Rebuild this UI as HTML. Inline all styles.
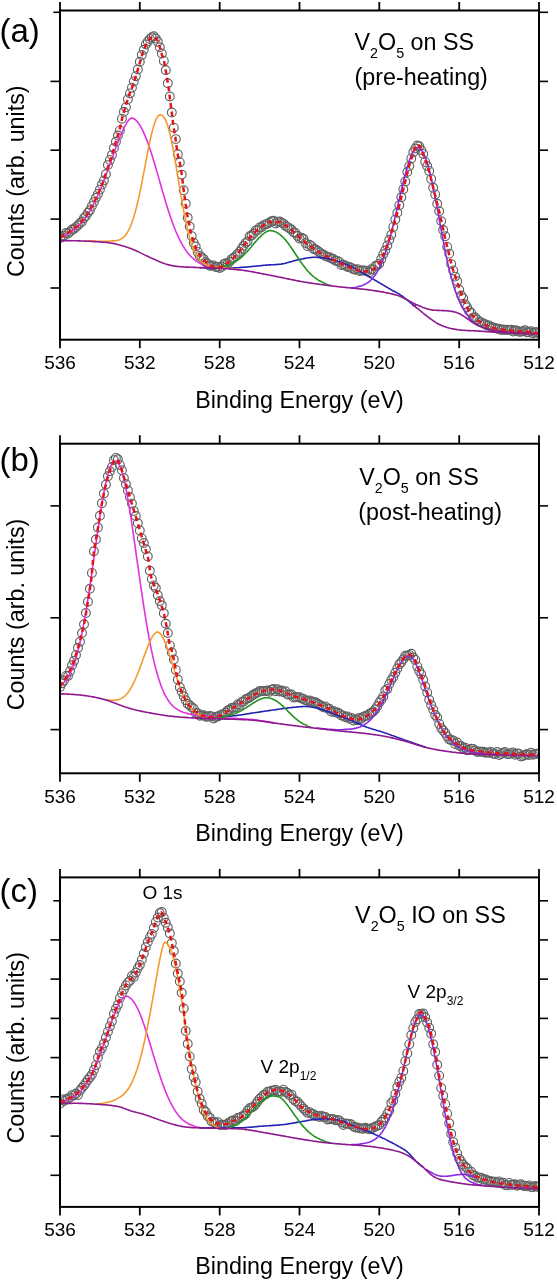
<!DOCTYPE html>
<html><head><meta charset="utf-8"><style>
html,body{margin:0;padding:0;background:#fff;width:557px;height:1280px;overflow:hidden}
svg{display:block;will-change:transform}
text{font-family:"Liberation Sans",sans-serif;fill:#000}
.tl{font-size:19px}
.ax{font-size:23.3px}
.pl{font-size:33px}
.an{font-size:23.3px}
.pk{font-size:19px}
.sub{font-size:14.3px}
.sub2{font-size:12px}
</style></head><body>
<svg width="557" height="1280" viewBox="0 0 557 1280">
<defs><clipPath id="clipa"><rect x="60.0" y="10.5" width="479.0" height="329.2"/></clipPath><clipPath id="clipb"><rect x="60.0" y="443.7" width="479.0" height="329.59999999999997"/></clipPath><clipPath id="clipc"><rect x="60.0" y="877.4" width="479.0" height="329.5000000000001"/></clipPath></defs>
<g clip-path="url(#clipa)">
<g fill="none" stroke="#626262" stroke-width="1.15"><circle cx="60.0" cy="238.1" r="4.4"/><circle cx="62.0" cy="237.3" r="4.4"/><circle cx="64.0" cy="235.6" r="4.4"/><circle cx="66.0" cy="233.0" r="4.4"/><circle cx="68.0" cy="233.5" r="4.4"/><circle cx="70.0" cy="231.7" r="4.4"/><circle cx="72.0" cy="229.5" r="4.4"/><circle cx="74.0" cy="228.9" r="4.4"/><circle cx="76.0" cy="227.1" r="4.4"/><circle cx="78.0" cy="225.3" r="4.4"/><circle cx="80.0" cy="223.2" r="4.4"/><circle cx="82.0" cy="221.5" r="4.4"/><circle cx="84.0" cy="218.1" r="4.4"/><circle cx="85.9" cy="216.0" r="4.4"/><circle cx="87.9" cy="212.7" r="4.4"/><circle cx="89.9" cy="210.2" r="4.4"/><circle cx="91.9" cy="206.1" r="4.4"/><circle cx="93.9" cy="202.1" r="4.4"/><circle cx="95.9" cy="197.7" r="4.4"/><circle cx="97.9" cy="193.9" r="4.4"/><circle cx="99.9" cy="189.6" r="4.4"/><circle cx="101.9" cy="184.6" r="4.4"/><circle cx="103.9" cy="180.5" r="4.4"/><circle cx="105.9" cy="174.2" r="4.4"/><circle cx="107.9" cy="165.1" r="4.4"/><circle cx="109.9" cy="159.9" r="4.4"/><circle cx="111.9" cy="155.1" r="4.4"/><circle cx="113.9" cy="148.1" r="4.4"/><circle cx="115.9" cy="141.7" r="4.4"/><circle cx="117.9" cy="135.5" r="4.4"/><circle cx="119.9" cy="130.4" r="4.4"/><circle cx="121.9" cy="118.7" r="4.4"/><circle cx="123.9" cy="111.8" r="4.4"/><circle cx="125.9" cy="107.3" r="4.4"/><circle cx="127.9" cy="99.2" r="4.4"/><circle cx="129.9" cy="93.4" r="4.4"/><circle cx="131.9" cy="87.7" r="4.4"/><circle cx="133.8" cy="81.4" r="4.4"/><circle cx="135.8" cy="76.2" r="4.4"/><circle cx="137.8" cy="69.5" r="4.4"/><circle cx="139.8" cy="61.7" r="4.4"/><circle cx="141.8" cy="55.1" r="4.4"/><circle cx="143.8" cy="49.8" r="4.4"/><circle cx="145.8" cy="44.4" r="4.4"/><circle cx="147.8" cy="41.5" r="4.4"/><circle cx="149.8" cy="38.9" r="4.4"/><circle cx="151.8" cy="37.2" r="4.4"/><circle cx="153.8" cy="36.3" r="4.4"/><circle cx="155.8" cy="38.6" r="4.4"/><circle cx="157.8" cy="41.8" r="4.4"/><circle cx="159.8" cy="47.3" r="4.4"/><circle cx="161.8" cy="53.5" r="4.4"/><circle cx="163.8" cy="60.9" r="4.4"/><circle cx="165.8" cy="70.3" r="4.4"/><circle cx="167.8" cy="83.3" r="4.4"/><circle cx="169.8" cy="96.5" r="4.4"/><circle cx="171.8" cy="112.5" r="4.4"/><circle cx="173.8" cy="127.7" r="4.4"/><circle cx="175.8" cy="139.1" r="4.4"/><circle cx="177.8" cy="154.2" r="4.4"/><circle cx="179.8" cy="162.4" r="4.4"/><circle cx="181.7" cy="174.6" r="4.4"/><circle cx="183.7" cy="190.3" r="4.4"/><circle cx="185.7" cy="203.6" r="4.4"/><circle cx="187.7" cy="217.8" r="4.4"/><circle cx="189.7" cy="226.6" r="4.4"/><circle cx="191.7" cy="236.1" r="4.4"/><circle cx="193.7" cy="242.7" r="4.4"/><circle cx="195.7" cy="246.5" r="4.4"/><circle cx="197.7" cy="251.9" r="4.4"/><circle cx="199.7" cy="255.9" r="4.4"/><circle cx="201.7" cy="257.3" r="4.4"/><circle cx="203.7" cy="259.1" r="4.4"/><circle cx="205.7" cy="262.3" r="4.4"/><circle cx="207.7" cy="263.7" r="4.4"/><circle cx="209.7" cy="265.7" r="4.4"/><circle cx="211.7" cy="265.7" r="4.4"/><circle cx="213.7" cy="265.4" r="4.4"/><circle cx="215.7" cy="267.0" r="4.4"/><circle cx="217.7" cy="267.0" r="4.4"/><circle cx="219.7" cy="267.9" r="4.4"/><circle cx="221.7" cy="266.8" r="4.4"/><circle cx="223.7" cy="264.2" r="4.4"/><circle cx="225.7" cy="263.2" r="4.4"/><circle cx="227.7" cy="263.4" r="4.4"/><circle cx="229.6" cy="261.8" r="4.4"/><circle cx="231.6" cy="259.1" r="4.4"/><circle cx="233.6" cy="257.8" r="4.4"/><circle cx="235.6" cy="256.1" r="4.4"/><circle cx="237.6" cy="254.0" r="4.4"/><circle cx="239.6" cy="251.8" r="4.4"/><circle cx="241.6" cy="248.7" r="4.4"/><circle cx="243.6" cy="245.8" r="4.4"/><circle cx="245.6" cy="243.1" r="4.4"/><circle cx="247.6" cy="241.5" r="4.4"/><circle cx="249.6" cy="236.3" r="4.4"/><circle cx="251.6" cy="235.5" r="4.4"/><circle cx="253.6" cy="233.5" r="4.4"/><circle cx="255.6" cy="230.4" r="4.4"/><circle cx="257.6" cy="229.9" r="4.4"/><circle cx="259.6" cy="227.4" r="4.4"/><circle cx="261.6" cy="227.2" r="4.4"/><circle cx="263.6" cy="225.1" r="4.4"/><circle cx="265.6" cy="224.4" r="4.4"/><circle cx="267.6" cy="223.7" r="4.4"/><circle cx="269.6" cy="222.4" r="4.4"/><circle cx="271.6" cy="221.3" r="4.4"/><circle cx="273.6" cy="220.8" r="4.4"/><circle cx="275.6" cy="223.4" r="4.4"/><circle cx="277.5" cy="221.9" r="4.4"/><circle cx="279.5" cy="221.5" r="4.4"/><circle cx="281.5" cy="222.7" r="4.4"/><circle cx="283.5" cy="223.6" r="4.4"/><circle cx="285.5" cy="226.0" r="4.4"/><circle cx="287.5" cy="226.9" r="4.4"/><circle cx="289.5" cy="228.4" r="4.4"/><circle cx="291.5" cy="229.5" r="4.4"/><circle cx="293.5" cy="232.2" r="4.4"/><circle cx="295.5" cy="232.9" r="4.4"/><circle cx="297.5" cy="236.0" r="4.4"/><circle cx="299.5" cy="238.5" r="4.4"/><circle cx="301.5" cy="237.8" r="4.4"/><circle cx="303.5" cy="238.8" r="4.4"/><circle cx="305.5" cy="243.0" r="4.4"/><circle cx="307.5" cy="246.1" r="4.4"/><circle cx="309.5" cy="244.8" r="4.4"/><circle cx="311.5" cy="246.1" r="4.4"/><circle cx="313.5" cy="249.0" r="4.4"/><circle cx="315.5" cy="249.2" r="4.4"/><circle cx="317.5" cy="250.8" r="4.4"/><circle cx="319.5" cy="252.2" r="4.4"/><circle cx="321.5" cy="254.1" r="4.4"/><circle cx="323.4" cy="254.5" r="4.4"/><circle cx="325.4" cy="256.1" r="4.4"/><circle cx="327.4" cy="256.7" r="4.4"/><circle cx="329.4" cy="257.1" r="4.4"/><circle cx="331.4" cy="258.5" r="4.4"/><circle cx="333.4" cy="259.0" r="4.4"/><circle cx="335.4" cy="260.8" r="4.4"/><circle cx="337.4" cy="260.9" r="4.4"/><circle cx="339.4" cy="261.9" r="4.4"/><circle cx="341.4" cy="264.9" r="4.4"/><circle cx="343.4" cy="264.6" r="4.4"/><circle cx="345.4" cy="265.6" r="4.4"/><circle cx="347.4" cy="266.9" r="4.4"/><circle cx="349.4" cy="267.0" r="4.4"/><circle cx="351.4" cy="267.9" r="4.4"/><circle cx="353.4" cy="269.2" r="4.4"/><circle cx="355.4" cy="269.7" r="4.4"/><circle cx="357.4" cy="269.1" r="4.4"/><circle cx="359.4" cy="271.1" r="4.4"/><circle cx="361.4" cy="270.4" r="4.4"/><circle cx="363.4" cy="270.4" r="4.4"/><circle cx="365.4" cy="270.7" r="4.4"/><circle cx="367.4" cy="271.0" r="4.4"/><circle cx="369.4" cy="272.2" r="4.4"/><circle cx="371.4" cy="269.3" r="4.4"/><circle cx="373.3" cy="269.4" r="4.4"/><circle cx="375.3" cy="266.0" r="4.4"/><circle cx="377.3" cy="265.5" r="4.4"/><circle cx="379.3" cy="263.6" r="4.4"/><circle cx="381.3" cy="259.0" r="4.4"/><circle cx="383.3" cy="254.3" r="4.4"/><circle cx="385.3" cy="250.3" r="4.4"/><circle cx="387.3" cy="245.5" r="4.4"/><circle cx="389.3" cy="239.8" r="4.4"/><circle cx="391.3" cy="234.7" r="4.4"/><circle cx="393.3" cy="226.9" r="4.4"/><circle cx="395.3" cy="219.6" r="4.4"/><circle cx="397.3" cy="212.8" r="4.4"/><circle cx="399.3" cy="205.2" r="4.4"/><circle cx="401.3" cy="197.3" r="4.4"/><circle cx="403.3" cy="189.2" r="4.4"/><circle cx="405.3" cy="181.5" r="4.4"/><circle cx="407.3" cy="172.0" r="4.4"/><circle cx="409.3" cy="166.0" r="4.4"/><circle cx="411.3" cy="158.4" r="4.4"/><circle cx="413.3" cy="152.3" r="4.4"/><circle cx="415.3" cy="148.5" r="4.4"/><circle cx="417.3" cy="145.5" r="4.4"/><circle cx="419.2" cy="146.3" r="4.4"/><circle cx="421.2" cy="150.0" r="4.4"/><circle cx="423.2" cy="153.9" r="4.4"/><circle cx="425.2" cy="161.9" r="4.4"/><circle cx="427.2" cy="166.0" r="4.4"/><circle cx="429.2" cy="170.9" r="4.4"/><circle cx="431.2" cy="179.1" r="4.4"/><circle cx="433.2" cy="187.8" r="4.4"/><circle cx="435.2" cy="194.4" r="4.4"/><circle cx="437.2" cy="203.8" r="4.4"/><circle cx="439.2" cy="211.2" r="4.4"/><circle cx="441.2" cy="221.1" r="4.4"/><circle cx="443.2" cy="230.0" r="4.4"/><circle cx="445.2" cy="236.2" r="4.4"/><circle cx="447.2" cy="246.9" r="4.4"/><circle cx="449.2" cy="253.6" r="4.4"/><circle cx="451.2" cy="264.1" r="4.4"/><circle cx="453.2" cy="270.4" r="4.4"/><circle cx="455.2" cy="276.6" r="4.4"/><circle cx="457.2" cy="281.2" r="4.4"/><circle cx="459.2" cy="289.7" r="4.4"/><circle cx="461.2" cy="295.5" r="4.4"/><circle cx="463.2" cy="298.3" r="4.4"/><circle cx="465.2" cy="304.2" r="4.4"/><circle cx="467.1" cy="307.2" r="4.4"/><circle cx="469.1" cy="310.9" r="4.4"/><circle cx="471.1" cy="312.8" r="4.4"/><circle cx="473.1" cy="317.6" r="4.4"/><circle cx="475.1" cy="317.3" r="4.4"/><circle cx="477.1" cy="319.5" r="4.4"/><circle cx="479.1" cy="321.7" r="4.4"/><circle cx="481.1" cy="322.1" r="4.4"/><circle cx="483.1" cy="323.6" r="4.4"/><circle cx="485.1" cy="324.3" r="4.4"/><circle cx="487.1" cy="325.5" r="4.4"/><circle cx="489.1" cy="325.4" r="4.4"/><circle cx="491.1" cy="326.7" r="4.4"/><circle cx="493.1" cy="327.5" r="4.4"/><circle cx="495.1" cy="328.0" r="4.4"/><circle cx="497.1" cy="328.7" r="4.4"/><circle cx="499.1" cy="328.8" r="4.4"/><circle cx="501.1" cy="330.0" r="4.4"/><circle cx="503.1" cy="329.5" r="4.4"/><circle cx="505.1" cy="329.9" r="4.4"/><circle cx="507.1" cy="329.8" r="4.4"/><circle cx="509.1" cy="330.1" r="4.4"/><circle cx="511.1" cy="329.7" r="4.4"/><circle cx="513.1" cy="331.4" r="4.4"/><circle cx="515.0" cy="330.2" r="4.4"/><circle cx="517.0" cy="330.7" r="4.4"/><circle cx="519.0" cy="331.7" r="4.4"/><circle cx="521.0" cy="331.8" r="4.4"/><circle cx="523.0" cy="331.3" r="4.4"/><circle cx="525.0" cy="330.2" r="4.4"/><circle cx="527.0" cy="332.3" r="4.4"/><circle cx="529.0" cy="332.3" r="4.4"/><circle cx="531.0" cy="331.2" r="4.4"/><circle cx="533.0" cy="333.2" r="4.4"/><circle cx="535.0" cy="332.2" r="4.4"/><circle cx="537.0" cy="332.1" r="4.4"/><circle cx="539.0" cy="333.4" r="4.4"/></g>
<path d="M200.0 267.7L201.0 267.7L202.0 267.7L203.0 267.8L204.0 267.8L205.0 267.9L206.0 267.9L207.0 268.0L208.0 268.0L209.0 268.1L210.0 268.1L211.0 268.1L212.0 268.2L213.0 268.2L214.0 268.2L215.0 268.2L216.0 268.2L217.0 268.3L218.0 268.3L219.0 268.3L220.0 268.3L221.0 268.3L222.0 268.3L223.0 268.3L224.0 268.3L225.0 268.3L226.0 268.2L227.0 268.2L228.0 268.2L229.0 268.2L230.0 268.1L231.0 268.1L232.0 268.0L233.0 268.0L234.0 267.9L235.0 267.9L236.0 267.8L237.0 267.7L238.0 267.7L239.0 267.6L240.0 267.5L241.0 267.4L242.0 267.4L243.0 267.3L244.0 267.2L245.0 267.2L246.0 267.1L247.0 267.0L248.0 266.9L249.0 266.8L250.0 266.7L251.0 266.6L252.0 266.5L253.0 266.4L254.0 266.3L255.0 266.2L256.0 266.1L257.0 266.0L258.0 265.9L259.0 265.8L260.0 265.7L261.0 265.6L262.0 265.5L263.0 265.4L264.0 265.3L265.0 265.2L266.0 265.1L267.0 265.1L268.0 265.0L269.0 264.9L270.0 264.9L271.0 264.8L272.0 264.8L273.0 264.7L274.0 264.7L275.0 264.6L276.0 264.6L277.0 264.5L278.0 264.4L279.0 264.3L280.0 264.2L281.0 264.1L282.0 263.9L283.0 263.8L284.0 263.6L285.0 263.3L286.0 263.1L287.0 262.8L288.0 262.5L289.0 262.2L290.0 261.9L291.0 261.7L292.0 261.4L293.0 261.1L294.0 260.8L295.0 260.6L296.0 260.3L297.0 260.1L298.0 259.8L299.0 259.6L300.0 259.4L301.0 259.2L302.0 259.0L303.0 258.8L304.0 258.6L305.0 258.4L306.0 258.2L307.0 258.0L308.0 257.8L309.0 257.7L310.0 257.6L311.0 257.5L312.0 257.4L313.0 257.3L314.0 257.3L315.0 257.3L316.0 257.3L317.0 257.3L318.0 257.4L319.0 257.5L320.0 257.5L321.0 257.7L322.0 257.8L323.0 257.9L324.0 258.0L325.0 258.2L326.0 258.3L327.0 258.5L328.0 258.7L329.0 258.9L330.0 259.1L331.0 259.3L332.0 259.6L333.0 259.8L334.0 260.1L335.0 260.4L336.0 260.8L337.0 261.1L338.0 261.4L339.0 261.8L340.0 262.1L341.0 262.5L342.0 262.8L343.0 263.2L344.0 263.6L345.0 264.0L346.0 264.4L347.0 264.8L348.0 265.2L349.0 265.7L350.0 266.1L351.0 266.6L352.0 267.1L353.0 267.6L354.0 268.1L355.0 268.6L356.0 269.1L357.0 269.7L358.0 270.2L359.0 270.8L360.0 271.4L361.0 272.0L362.0 272.6L363.0 273.2L364.0 273.8L365.0 274.4L366.0 275.0L367.0 275.6L368.0 276.1L369.0 276.7L370.0 277.3L371.0 277.9L372.0 278.5L373.0 279.0L374.0 279.6L375.0 280.2L376.0 280.8L377.0 281.4L378.0 282.0L379.0 282.5L380.0 283.1L381.0 283.7L382.0 284.3L383.0 284.9L384.0 285.5L385.0 286.1L386.0 286.7L387.0 287.3L388.0 287.9L389.0 288.5L390.0 289.0L391.0 289.6L392.0 290.2L393.0 290.7L394.0 291.2L395.0 291.8L396.0 292.3L397.0 292.9L398.0 293.4L399.0 294.0L400.0 294.6L401.0 295.3L402.0 296.0L403.0 296.7L404.0 297.5L405.0 298.3L406.0 299.1L407.0 299.9L408.0 300.7L409.0 301.5L410.0 302.4L411.0 303.1L412.0 303.9L413.0 304.6L414.0 305.3L415.0 305.8L416.0 306.3" fill="none" stroke="#2424b4" stroke-width="1.6"/>
<path d="M412.0 304.8L413.0 305.3L414.0 305.9L415.0 306.6L416.0 307.3L417.0 308.1L418.0 308.9L419.0 309.7L420.0 310.5L421.0 311.3L422.0 312.1L423.0 313.0L424.0 313.8L425.0 314.6L426.0 315.4L427.0 316.2L428.0 317.0L429.0 317.7L430.0 318.5L431.0 319.2L432.0 319.9L433.0 320.6L434.0 321.3L435.0 321.9L436.0 322.6L437.0 323.2L438.0 323.7L439.0 324.3L440.0 324.8L441.0 325.3L442.0 325.7L443.0 326.1L444.0 326.5L445.0 326.8L446.0 327.1L447.0 327.5L448.0 327.7L449.0 328.0L450.0 328.3L451.0 328.5L452.0 328.7L453.0 328.9L454.0 329.1L455.0 329.3L456.0 329.4L457.0 329.6L458.0 329.7L459.0 329.8L460.0 330.0L461.0 330.1L462.0 330.2L463.0 330.3L464.0 330.3L465.0 330.4L466.0 330.5L467.0 330.5L468.0 330.6L469.0 330.6L470.0 330.6L471.0 330.7L472.0 330.7L473.0 330.8L474.0 330.8L475.0 330.9L476.0 330.9L477.0 331.0L478.0 331.0L479.0 331.1L480.0 331.1L481.0 331.2L482.0 331.3L483.0 331.4L484.0 331.4L485.0 331.5L486.0 331.6L487.0 331.6L488.0 331.7L489.0 331.8L490.0 331.9L491.0 331.9L492.0 332.0L493.0 332.1L494.0 332.1L495.0 332.2L496.0 332.3L497.0 332.3L498.0 332.4L499.0 332.4L500.0 332.5L501.0 332.5L502.0 332.6L503.0 332.6L504.0 332.7L505.0 332.7L506.0 332.8L507.0 332.8L508.0 332.9L509.0 332.9L510.0 333.0L511.0 333.0L512.0 333.1L513.0 333.1L514.0 333.2L515.0 333.2L516.0 333.2L517.0 333.3L518.0 333.3L519.0 333.4L520.0 333.4L521.0 333.4L522.0 333.5L523.0 333.5L524.0 333.6L525.0 333.6L526.0 333.6L527.0 333.7L528.0 333.7L529.0 333.7L530.0 333.8L531.0 333.8L532.0 333.8L533.0 333.8L534.0 333.9L535.0 333.9L536.0 333.9L537.0 333.9L538.0 334.0L539.0 334.0" fill="none" stroke="#8f1a8f" stroke-width="1.6"/>
<path d="M60.0 236.7L61.0 236.4L62.0 236.1L63.0 235.7L64.0 235.3L65.0 234.9L66.0 234.5L67.0 234.0L68.0 233.5L69.0 233.0L70.0 232.4L71.0 231.8L72.0 231.2L73.0 230.5L74.0 229.8L75.0 229.0L76.0 228.2L77.0 227.3L78.0 226.4L79.0 225.4L80.0 224.4L81.0 223.3L82.0 222.2L83.0 221.0L84.0 219.7L85.0 218.4L86.0 217.0L87.0 215.6L88.0 214.0L89.0 212.4L90.0 210.8L91.0 209.1L92.0 207.3L93.0 205.4L94.0 203.5L95.0 201.5L96.0 199.4L97.0 197.2L98.0 195.0L99.0 192.7L100.0 190.3L101.0 187.9L102.0 185.4L103.0 182.9L104.0 180.3L105.0 177.7L106.0 175.0L107.0 172.3L108.0 169.5L109.0 166.7L110.0 163.9L111.0 161.1L112.0 158.3L113.0 155.5L114.0 152.7L115.0 150.0L116.0 147.2L117.0 144.5L118.0 141.9L119.0 139.3L120.0 136.8L121.0 134.4L122.0 132.1L123.0 129.9L124.0 127.8L125.0 125.8L126.0 124.1L127.0 122.4L128.0 121.0L129.0 119.9L130.0 118.9L131.0 118.3L132.0 118.0L133.0 118.3L134.0 118.8L135.0 119.5L136.0 120.3L137.0 121.4L138.0 122.6L139.0 124.0L140.0 125.5L141.0 127.2L142.0 129.1L143.0 131.1L144.0 133.3L145.0 135.6L146.0 138.1L147.0 140.6L148.0 143.3L149.0 146.2L150.0 149.1L151.0 152.1L152.0 155.2L153.0 158.4L154.0 161.7L155.0 165.1L156.0 168.5L157.0 171.9L158.0 175.4L159.0 178.9L160.0 182.4L161.0 186.0L162.0 189.4L163.0 192.9L164.0 196.3L165.0 199.7L166.0 203.0L167.0 206.3L168.0 209.4L169.0 212.5L170.0 215.5L171.0 218.5L172.0 221.3L173.0 224.0L174.0 226.7L175.0 229.2L176.0 231.7L177.0 234.0L178.0 236.2L179.0 238.4L180.0 240.4L181.0 242.3L182.0 244.2L183.0 245.9L184.0 247.5L185.0 249.1L186.0 250.5L187.0 251.9L188.0 253.2L189.0 254.4L190.0 255.5L191.0 256.6L192.0 257.5L193.0 258.4L194.0 259.3L195.0 260.1L196.0 260.8L197.0 261.5L198.0 262.1L199.0 262.7L200.0 263.2L201.0 263.7L202.0 264.1L203.0 264.6L204.0 264.9L205.0 265.3L206.0 265.6L207.0 265.9L208.0 266.3L209.0 266.7L210.0 267.0L211.0 267.3L212.0 267.5L213.0 267.6L214.0 267.8L215.0 267.9" fill="none" stroke="#e030e0" stroke-width="1.6"/>
<path d="M85.0 240.8L86.0 240.8L87.0 240.9L88.0 240.9L89.0 240.9L90.0 241.0L91.0 241.0L92.0 241.0L93.0 241.1L94.0 241.1L95.0 241.1L96.0 241.1L97.0 241.2L98.0 241.2L99.0 241.2L100.0 241.2L101.0 241.3L102.0 241.3L103.0 241.3L104.0 241.3L105.0 241.3L106.0 241.3L107.0 241.3L108.0 241.2L109.0 241.1L110.0 241.0L111.0 241.0L112.0 240.9L113.0 240.9L114.0 240.9L115.0 240.8L116.0 240.6L117.0 240.5L118.0 240.2L119.0 239.9L120.0 239.5L121.0 239.0L122.0 238.4L123.0 237.6L124.0 236.7L125.0 235.7L126.0 234.4L127.0 233.0L128.0 231.3L129.0 229.4L130.0 227.3L131.0 224.9L132.0 222.3L133.0 219.4L134.0 216.2L135.0 212.8L136.0 209.1L137.0 205.2L138.0 201.0L139.0 196.5L140.0 191.9L141.0 187.0L142.0 182.0L143.0 176.8L144.0 171.6L145.0 166.3L146.0 161.0L147.0 155.8L148.0 150.6L149.0 145.7L150.0 140.9L151.0 136.4L152.0 132.2L153.0 128.4L154.0 125.0L155.0 122.0L156.0 119.6L157.0 117.6L158.0 116.2L159.0 115.3L160.0 114.9L161.0 114.9L162.0 115.4L163.0 116.2L164.0 117.4L165.0 119.0L166.0 121.1L167.0 123.7L168.0 126.8L169.0 130.4L170.0 134.4L171.0 138.8L172.0 143.6L173.0 148.7L174.0 154.1L175.0 159.8L176.0 165.6L177.0 171.6L178.0 177.6L179.0 183.6L180.0 189.7L181.0 195.6L182.0 201.4L183.0 207.0L184.0 212.4L185.0 217.6L186.0 222.5L187.0 227.1L188.0 231.4L189.0 235.4L190.0 239.1L191.0 242.5L192.0 245.5L193.0 248.3L194.0 250.7L195.0 252.9L196.0 254.9L197.0 256.6L198.0 258.1L199.0 259.4L200.0 260.5L201.0 261.5L202.0 262.3L203.0 263.0L204.0 263.6L205.0 264.1L206.0 264.6L207.0 264.9L208.0 265.2L209.0 265.5L210.0 265.7L211.0 265.9L212.0 266.2L213.0 266.4L214.0 266.7L215.0 266.8L216.0 267.0L217.0 267.1L218.0 267.3L219.0 267.4L220.0 267.5L221.0 267.6L222.0 267.7L223.0 267.8L224.0 267.9L225.0 268.0L226.0 268.1L227.0 268.2L228.0 268.3L229.0 268.4L230.0 268.5L231.0 268.6L232.0 268.8L233.0 268.9L234.0 269.0L235.0 269.1L236.0 269.2L237.0 269.3L238.0 269.4L239.0 269.6" fill="none" stroke="#f39a2c" stroke-width="1.6"/>
<path d="M214.0 267.9L215.0 267.8L216.0 267.8L217.0 267.7L218.0 267.6L219.0 267.4L220.0 267.2L221.0 266.9L222.0 266.6L223.0 266.3L224.0 266.1L225.0 265.9L226.0 265.6L227.0 265.4L228.0 265.1L229.0 264.7L230.0 264.3L231.0 263.9L232.0 263.5L233.0 263.0L234.0 262.5L235.0 261.9L236.0 261.3L237.0 260.6L238.0 259.9L239.0 259.2L240.0 258.4L241.0 257.6L242.0 256.7L243.0 255.8L244.0 254.8L245.0 253.8L246.0 252.8L247.0 251.7L248.0 250.6L249.0 249.5L250.0 248.3L251.0 247.2L252.0 246.0L253.0 244.8L254.0 243.6L255.0 242.4L256.0 241.3L257.0 240.1L258.0 239.0L259.0 237.9L260.0 236.9L261.0 235.9L262.0 235.0L263.0 234.1L264.0 233.3L265.0 232.6L266.0 232.0L267.0 231.5L268.0 231.1L269.0 230.8L270.0 230.6L271.0 230.6L272.0 230.8L273.0 231.0L274.0 231.3L275.0 231.7L276.0 232.1L277.0 232.6L278.0 233.2L279.0 233.8L280.0 234.6L281.0 235.4L282.0 236.3L283.0 237.2L284.0 238.3L285.0 239.4L286.0 240.6L287.0 241.8L288.0 243.1L289.0 244.5L290.0 245.9L291.0 247.3L292.0 248.8L293.0 250.3L294.0 251.8L295.0 253.3L296.0 254.8L297.0 256.3L298.0 257.8L299.0 259.3L300.0 260.8L301.0 262.2L302.0 263.6L303.0 265.0L304.0 266.3L305.0 267.6L306.0 268.9L307.0 270.1L308.0 271.2L309.0 272.3L310.0 273.4L311.0 274.3L312.0 275.3L313.0 276.2L314.0 277.0L315.0 277.8L316.0 278.5L317.0 279.2L318.0 279.9L319.0 280.5L320.0 281.0L321.0 281.5L322.0 282.0L323.0 282.5L324.0 282.9L325.0 283.5L326.0 284.0L327.0 284.4L328.0 284.8L329.0 285.1L330.0 285.3L331.0 285.5" fill="none" stroke="#229322" stroke-width="1.6"/>
<path d="M351.0 287.7L352.0 287.7L353.0 287.7L354.0 287.6L355.0 287.5L356.0 287.3L357.0 287.0L358.0 286.6L359.0 286.4L360.0 286.2L361.0 285.9L362.0 285.6L363.0 285.2L364.0 284.8L365.0 284.3L366.0 283.8L367.0 283.2L368.0 282.5L369.0 281.8L370.0 280.9L371.0 280.0L372.0 279.0L373.0 277.8L374.0 276.6L375.0 275.2L376.0 273.7L377.0 272.1L378.0 270.4L379.0 268.5L380.0 266.4L381.0 264.2L382.0 261.9L383.0 259.4L384.0 256.7L385.0 253.9L386.0 250.9L387.0 247.7L388.0 244.4L389.0 240.9L390.0 237.3L391.0 233.6L392.0 229.7L393.0 225.7L394.0 221.6L395.0 217.4L396.0 213.1L397.0 208.8L398.0 204.5L399.0 200.1L400.0 195.8L401.0 191.5L402.0 187.3L403.0 183.2L404.0 179.2L405.0 175.3L406.0 171.5L407.0 168.0L408.0 164.6L409.0 161.5L410.0 158.6L411.0 156.0L412.0 153.7L413.0 151.7L414.0 150.1L415.0 148.8L416.0 147.9L417.0 147.5L418.0 147.5L419.0 147.9L420.0 148.6L421.0 149.6L422.0 150.8L423.0 152.4L424.0 154.4L425.0 156.6L426.0 159.3L427.0 162.3L428.0 165.6L429.0 169.3L430.0 173.2L431.0 177.4L432.0 181.9L433.0 186.6L434.0 191.5L435.0 196.6L436.0 201.8L437.0 207.2L438.0 212.6L439.0 218.0L440.0 223.5L441.0 228.9L442.0 234.3L443.0 239.6L444.0 244.8L445.0 249.9L446.0 254.8L447.0 259.5L448.0 264.1L449.0 268.4L450.0 272.6L451.0 276.5L452.0 280.2L453.0 283.7L454.0 286.9L455.0 290.0L456.0 292.8L457.0 295.5L458.0 298.0L459.0 300.4L460.0 302.6L461.0 304.6L462.0 306.6L463.0 308.4L464.0 310.2L465.0 311.8L466.0 313.3L467.0 314.7L468.0 316.1L469.0 317.3L470.0 318.5L471.0 319.7L472.0 320.9L473.0 321.9L474.0 322.7L475.0 323.4L476.0 324.1" fill="none" stroke="#8a2be2" stroke-width="1.6"/>
<path d="M60.0 240.5L61.0 240.5L62.0 240.5L63.0 240.5L64.0 240.6L65.0 240.6L66.0 240.6L67.0 240.6L68.0 240.6L69.0 240.6L70.0 240.7L71.0 240.7L72.0 240.7L73.0 240.7L74.0 240.8L75.0 240.8L76.0 240.8L77.0 240.8L78.0 240.9L79.0 240.9L80.0 240.9L81.0 241.0L82.0 241.0L83.0 241.0L84.0 241.1L85.0 241.1L86.0 241.2L87.0 241.2L88.0 241.2L89.0 241.3L90.0 241.3L91.0 241.4L92.0 241.4L93.0 241.5L94.0 241.6L95.0 241.6L96.0 241.7L97.0 241.7L98.0 241.8L99.0 241.9L100.0 241.9L101.0 242.0L102.0 242.1L103.0 242.2L104.0 242.3L105.0 242.3L106.0 242.4L107.0 242.5L108.0 242.7L109.0 242.8L110.0 242.9L111.0 243.1L112.0 243.2L113.0 243.4L114.0 243.6L115.0 243.8L116.0 244.1L117.0 244.3L118.0 244.6L119.0 244.8L120.0 245.1L121.0 245.4L122.0 245.7L123.0 246.0L124.0 246.3L125.0 246.6L126.0 246.9L127.0 247.2L128.0 247.5L129.0 247.9L130.0 248.2L131.0 248.6L132.0 249.0L133.0 249.4L134.0 249.8L135.0 250.2L136.0 250.7L137.0 251.2L138.0 251.6L139.0 252.1L140.0 252.6L141.0 253.1L142.0 253.6L143.0 254.1L144.0 254.6L145.0 255.1L146.0 255.6L147.0 256.0L148.0 256.5L149.0 257.0L150.0 257.4L151.0 257.9L152.0 258.3L153.0 258.7L154.0 259.2L155.0 259.6L156.0 260.1L157.0 260.5L158.0 261.0L159.0 261.4L160.0 261.9L161.0 262.3L162.0 262.7L163.0 263.1L164.0 263.4L165.0 263.8L166.0 264.1L167.0 264.4L168.0 264.7L169.0 264.9L170.0 265.2L171.0 265.4L172.0 265.6L173.0 265.8L174.0 266.0L175.0 266.1L176.0 266.3L177.0 266.4L178.0 266.5L179.0 266.6L180.0 266.7L181.0 266.8L182.0 266.8L183.0 266.9L184.0 267.0L185.0 267.0L186.0 267.1L187.0 267.1L188.0 267.1L189.0 267.2L190.0 267.2L191.0 267.3L192.0 267.3L193.0 267.3L194.0 267.4L195.0 267.4L196.0 267.5L197.0 267.5L198.0 267.5L199.0 267.6L200.0 267.6L201.0 267.6L202.0 267.7L203.0 267.7L204.0 267.7L205.0 267.8L206.0 267.8L207.0 267.9L208.0 267.9L209.0 267.9L210.0 268.0L211.0 268.0L212.0 268.0L213.0 268.1L214.0 268.1L215.0 268.1L216.0 268.2L217.0 268.2L218.0 268.3L219.0 268.3L220.0 268.4L221.0 268.4L222.0 268.5L223.0 268.5L224.0 268.6L225.0 268.6L226.0 268.7L227.0 268.8L228.0 268.8L229.0 268.9L230.0 269.0L231.0 269.1L232.0 269.2L233.0 269.3L234.0 269.4L235.0 269.5L236.0 269.6L237.0 269.7L238.0 269.8L239.0 269.9L240.0 270.0L241.0 270.1L242.0 270.2L243.0 270.3L244.0 270.5L245.0 270.6L246.0 270.7L247.0 270.9L248.0 271.0L249.0 271.2L250.0 271.4L251.0 271.5L252.0 271.7L253.0 271.9L254.0 272.1L255.0 272.3L256.0 272.5L257.0 272.7L258.0 272.9L259.0 273.1L260.0 273.3L261.0 273.5L262.0 273.7L263.0 273.9L264.0 274.1L265.0 274.3L266.0 274.5L267.0 274.6L268.0 274.8L269.0 275.0L270.0 275.2L271.0 275.4L272.0 275.6L273.0 275.8L274.0 276.0L275.0 276.2L276.0 276.4L277.0 276.6L278.0 276.8L279.0 277.0L280.0 277.2L281.0 277.4L282.0 277.6L283.0 277.8L284.0 278.0L285.0 278.2L286.0 278.5L287.0 278.7L288.0 278.9L289.0 279.1L290.0 279.3L291.0 279.5L292.0 279.7L293.0 279.9L294.0 280.1L295.0 280.3L296.0 280.5L297.0 280.7L298.0 280.9L299.0 281.1L300.0 281.3L301.0 281.5L302.0 281.7L303.0 281.8L304.0 282.0L305.0 282.2L306.0 282.3L307.0 282.5L308.0 282.6L309.0 282.8L310.0 282.9L311.0 283.1L312.0 283.2L313.0 283.4L314.0 283.5L315.0 283.7L316.0 283.8L317.0 284.0L318.0 284.1L319.0 284.2L320.0 284.4L321.0 284.5L322.0 284.6L323.0 284.8L324.0 284.9L325.0 285.0L326.0 285.2L327.0 285.3L328.0 285.4L329.0 285.6L330.0 285.7L331.0 285.8L332.0 285.9L333.0 286.1L334.0 286.2L335.0 286.3L336.0 286.4L337.0 286.5L338.0 286.7L339.0 286.8L340.0 286.9L341.0 287.0L342.0 287.1L343.0 287.2L344.0 287.3L345.0 287.4L346.0 287.5L347.0 287.6L348.0 287.7L349.0 287.8L350.0 287.9L351.0 288.0L352.0 288.1L353.0 288.2L354.0 288.3L355.0 288.4L356.0 288.5L357.0 288.6L358.0 288.7L359.0 288.8L360.0 288.9L361.0 289.0L362.0 289.1L363.0 289.2L364.0 289.3L365.0 289.4L366.0 289.5L367.0 289.6L368.0 289.8L369.0 289.9L370.0 290.0L371.0 290.2L372.0 290.3L373.0 290.5L374.0 290.6L375.0 290.8L376.0 290.9L377.0 291.1L378.0 291.2L379.0 291.4L380.0 291.6L381.0 291.8L382.0 291.9L383.0 292.1L384.0 292.3L385.0 292.5L386.0 292.7L387.0 292.9L388.0 293.1L389.0 293.3L390.0 293.5L391.0 293.7L392.0 293.9L393.0 294.2L394.0 294.4L395.0 294.7L396.0 295.0L397.0 295.3L398.0 295.6L399.0 295.9L400.0 296.3L401.0 296.7L402.0 297.2L403.0 297.7L404.0 298.2L405.0 298.7L406.0 299.2L407.0 299.7L408.0 300.3L409.0 300.8L410.0 301.4L411.0 301.9L412.0 302.4L413.0 302.9L414.0 303.4L415.0 303.9L416.0 304.4L417.0 304.8L418.0 305.3L419.0 305.7L420.0 306.1L421.0 306.6L422.0 307.0L423.0 307.4L424.0 307.7L425.0 308.1L426.0 308.4L427.0 308.8L428.0 309.1L429.0 309.3L430.0 309.6L431.0 309.8L432.0 309.9L433.0 310.1L434.0 310.2L435.0 310.2L436.0 310.3L437.0 310.4L438.0 310.4L439.0 310.4L440.0 310.5L441.0 310.5L442.0 310.5L443.0 310.6L444.0 310.6L445.0 310.7L446.0 310.7L447.0 310.8L448.0 310.9L449.0 311.0L450.0 311.1L451.0 311.2L452.0 311.4L453.0 311.6L454.0 311.8L455.0 312.1L456.0 312.3L457.0 312.7L458.0 313.0L459.0 313.5L460.0 313.9L461.0 314.5L462.0 315.1L463.0 315.7L464.0 316.4L465.0 317.1L466.0 317.8L467.0 318.5L468.0 319.2L469.0 319.9L470.0 320.6L471.0 321.3L472.0 322.0L473.0 322.6L474.0 323.2L475.0 323.8L476.0 324.3L477.0 324.8L478.0 325.3L479.0 325.7L480.0 326.2L481.0 326.6L482.0 327.0L483.0 327.3L484.0 327.7L485.0 328.0L486.0 328.3L487.0 328.6L488.0 328.9L489.0 329.2L490.0 329.4L491.0 329.6L492.0 329.9L493.0 330.1L494.0 330.3L495.0 330.5L496.0 330.7L497.0 330.8L498.0 331.0L499.0 331.1L500.0 331.2L501.0 331.4L502.0 331.5L503.0 331.6L504.0 331.7L505.0 331.8L506.0 331.9L507.0 332.0L508.0 332.1L509.0 332.2L510.0 332.3L511.0 332.3L512.0 332.4L513.0 332.5L514.0 332.6L515.0 332.7L516.0 332.7L517.0 332.8L518.0 332.9L519.0 332.9L520.0 333.0L521.0 333.1L522.0 333.1L523.0 333.2L524.0 333.2L525.0 333.3L526.0 333.4L527.0 333.4L528.0 333.5L529.0 333.5L530.0 333.6L531.0 333.6L532.0 333.7L533.0 333.7L534.0 333.8L535.0 333.8L536.0 333.9L537.0 333.9L538.0 333.9L539.0 333.9" fill="none" stroke="#8f1a8f" stroke-width="1.6"/>
<path d="M60.0 237.8L61.0 237.2L62.0 236.6L63.0 236.0L64.0 235.4L65.0 234.7L66.0 234.1L67.0 233.4L68.0 232.7L69.0 232.0L70.0 231.3L71.0 230.6L72.0 229.9L73.0 229.2L74.0 228.4L75.0 227.6L76.0 226.8L77.0 226.0L78.0 225.1L79.0 224.1L80.0 223.2L81.0 222.1L82.0 221.0L83.0 219.9L84.0 218.7L85.0 217.4L86.0 216.1L87.0 214.6L88.0 213.0L89.0 211.4L90.0 209.6L91.0 207.8L92.0 206.0L93.0 204.1L94.0 202.2L95.0 200.2L96.0 198.2L97.0 196.1L98.0 193.9L99.0 191.7L100.0 189.4L101.0 187.0L102.0 184.6L103.0 182.0L104.0 179.2L105.0 176.2L106.0 173.1L107.0 170.0L108.0 167.0L109.0 164.1L110.0 161.1L111.0 158.1L112.0 154.9L113.0 151.6L114.0 148.1L115.0 144.6L116.0 141.2L117.0 138.0L118.0 135.0L119.0 131.8L120.0 128.2L121.0 123.7L122.0 119.0L123.0 115.1L124.0 111.7L125.0 108.5L126.0 105.2L127.0 101.7L128.0 98.2L129.0 95.1L130.0 92.5L131.0 90.1L132.0 87.7L133.0 85.2L134.0 82.2L135.0 78.9L136.0 75.6L137.0 72.2L138.0 68.9L139.0 65.5L140.0 62.1L141.0 58.5L142.0 55.0L143.0 52.0L144.0 49.4L145.0 47.0L146.0 44.8L147.0 42.9L148.0 41.3L149.0 39.9L150.0 38.7L151.0 37.8L152.0 37.0L153.0 36.6L154.0 36.8L155.0 37.5L156.0 38.4L157.0 39.7L158.0 41.5L159.0 44.2L160.0 47.9L161.0 51.6L162.0 54.8L163.0 57.7L164.0 61.1L165.0 65.7L166.0 72.1L167.0 78.3L168.0 83.8L169.0 90.4L170.0 99.5L171.0 106.5L172.0 113.8L173.0 122.7L174.0 129.2L175.0 135.0L176.0 141.9L177.0 149.8L178.0 155.7L179.0 159.5L180.0 163.5L181.0 169.2L182.0 176.2L183.0 184.7L184.0 192.9L185.0 199.3L186.0 206.5L187.0 213.7L188.0 218.7L189.0 223.0L190.0 228.5L191.0 233.3L192.0 236.8L193.0 239.9L194.0 243.0L195.0 245.9L196.0 248.5L197.0 250.4L198.0 252.2L199.0 253.8L200.0 255.3L201.0 256.6L202.0 257.9L203.0 259.0L204.0 260.0L205.0 261.0L206.0 261.9L207.0 262.9L208.0 263.7L209.0 264.5L210.0 265.1L211.0 265.7L212.0 266.1L213.0 266.4L214.0 266.7L215.0 266.9L216.0 267.1L217.0 267.3L218.0 267.4L219.0 267.4L220.0 267.3L221.0 266.9L222.0 266.5L223.0 265.9L224.0 265.3L225.0 264.6L226.0 263.9L227.0 263.2L228.0 262.5L229.0 261.8L230.0 261.0L231.0 260.2L232.0 259.3L233.0 258.4L234.0 257.4L235.0 256.4L236.0 255.4L237.0 254.3L238.0 253.2L239.0 251.9L240.0 250.6L241.0 249.3L242.0 248.0L243.0 246.7L244.0 245.4L245.0 244.1L246.0 242.8L247.0 241.5L248.0 240.2L249.0 238.9L250.0 237.6L251.0 236.4L252.0 235.2L253.0 234.1L254.0 233.1L255.0 232.1L256.0 231.1L257.0 230.2L258.0 229.3L259.0 228.4L260.0 227.6L261.0 226.9L262.0 226.2L263.0 225.6L264.0 224.9L265.0 224.2L266.0 223.6L267.0 223.0L268.0 222.6L269.0 222.2L270.0 222.0L271.0 222.0L272.0 222.0L273.0 222.0L274.0 222.0L275.0 222.0L276.0 222.0L277.0 222.0L278.0 222.0L279.0 222.0L280.0 222.1L281.0 222.4L282.0 222.8L283.0 223.4L284.0 224.1L285.0 224.9L286.0 225.7L287.0 226.5L288.0 227.3L289.0 228.0L290.0 228.8L291.0 229.6L292.0 230.5L293.0 231.4L294.0 232.3L295.0 233.2L296.0 234.1L297.0 235.0L298.0 235.9L299.0 236.8L300.0 237.7L301.0 238.6L302.0 239.5L303.0 240.4L304.0 241.2L305.0 242.1L306.0 242.9L307.0 243.7L308.0 244.5L309.0 245.2L310.0 246.0L311.0 246.7L312.0 247.4L313.0 248.2L314.0 248.9L315.0 249.5L316.0 250.2L317.0 250.9L318.0 251.5L319.0 252.2L320.0 252.8L321.0 253.4L322.0 254.0L323.0 254.5L324.0 255.1L325.0 255.6L326.0 256.1L327.0 256.6L328.0 257.1L329.0 257.6L330.0 258.1L331.0 258.6L332.0 259.1L333.0 259.6L334.0 260.1L335.0 260.6L336.0 261.1L337.0 261.6L338.0 262.1L339.0 262.6L340.0 263.1L341.0 263.5L342.0 264.0L343.0 264.5L344.0 265.0L345.0 265.4L346.0 265.9L347.0 266.3L348.0 266.7L349.0 267.1L350.0 267.5L351.0 267.9L352.0 268.3L353.0 268.7L354.0 269.1L355.0 269.4L356.0 269.7L357.0 270.0L358.0 270.2L359.0 270.4L360.0 270.6L361.0 270.8L362.0 271.0L363.0 271.2L364.0 271.3L365.0 271.4L366.0 271.4L367.0 271.4L368.0 271.2L369.0 271.0L370.0 270.7L371.0 270.3L372.0 269.9L373.0 269.5L374.0 268.9L375.0 268.1L376.0 267.1L377.0 265.9L378.0 264.7L379.0 263.3L380.0 261.8L381.0 259.9L382.0 257.7L383.0 255.5L384.0 253.2L385.0 250.9L386.0 248.4L387.0 245.8L388.0 243.1L389.0 240.2L390.0 237.2L391.0 234.1L392.0 230.9L393.0 227.7L394.0 224.4L395.0 221.1L396.0 217.6L397.0 214.0L398.0 210.3L399.0 206.4L400.0 202.5L401.0 198.4L402.0 194.4L403.0 190.4L404.0 186.4L405.0 182.4L406.0 178.5L407.0 174.5L408.0 170.3L409.0 166.3L410.0 162.8L411.0 159.7L412.0 156.8L413.0 154.0L414.0 151.2L415.0 148.6L416.0 146.5L417.0 144.7L418.0 144.4L419.0 145.6L420.0 147.1L421.0 149.2L422.0 151.7L423.0 154.0L424.0 156.5L425.0 159.0L426.0 161.7L427.0 164.6L428.0 167.7L429.0 171.0L430.0 174.7L431.0 178.8L432.0 182.9L433.0 186.9L434.0 190.8L435.0 194.8L436.0 198.8L437.0 202.8L438.0 206.8L439.0 210.7L440.0 214.8L441.0 219.2L442.0 223.8L443.0 228.3L444.0 232.9L445.0 237.5L446.0 241.9L447.0 246.1L448.0 250.1L449.0 254.1L450.0 258.2L451.0 262.4L452.0 266.3L453.0 269.7L454.0 272.8L455.0 275.7L456.0 278.5L457.0 281.5L458.0 284.6L459.0 287.7L460.0 290.7L461.0 293.5L462.0 296.1L463.0 298.8L464.0 301.3L465.0 303.6L466.0 305.6L467.0 307.4L468.0 309.1L469.0 310.7L470.0 312.2L471.0 313.6L472.0 314.8L473.0 316.0L474.0 317.0L475.0 317.9L476.0 318.8L477.0 319.7L478.0 320.5L479.0 321.2L480.0 321.9L481.0 322.5L482.0 323.2L483.0 323.7L484.0 324.2L485.0 324.7L486.0 325.1L487.0 325.5L488.0 325.9L489.0 326.3L490.0 326.7L491.0 327.0L492.0 327.4L493.0 327.7L494.0 327.9L495.0 328.2L496.0 328.5L497.0 328.7L498.0 328.9L499.0 329.1L500.0 329.2L501.0 329.4L502.0 329.6L503.0 329.7L504.0 329.9L505.0 330.0L506.0 330.2L507.0 330.3L508.0 330.4L509.0 330.5L510.0 330.6L511.0 330.7L512.0 330.8L513.0 330.9L514.0 331.0L515.0 331.1L516.0 331.2L517.0 331.3L518.0 331.3L519.0 331.4L520.0 331.5L521.0 331.5L522.0 331.6L523.0 331.6L524.0 331.7L525.0 331.8L526.0 331.9L527.0 331.9L528.0 332.0L529.0 332.1L530.0 332.2L531.0 332.3L532.0 332.4L533.0 332.5L534.0 332.7L535.0 332.8L536.0 332.9L537.0 333.0L538.0 333.2L539.0 333.3" fill="none" stroke="#e3151b" stroke-width="2.5" stroke-dasharray="5 3.5"/>
</g>
<g clip-path="url(#clipb)">
<g fill="none" stroke="#626262" stroke-width="1.15"><circle cx="60.0" cy="686.9" r="4.4"/><circle cx="62.0" cy="683.2" r="4.4"/><circle cx="64.0" cy="680.5" r="4.4"/><circle cx="66.0" cy="675.9" r="4.4"/><circle cx="68.0" cy="676.0" r="4.4"/><circle cx="70.0" cy="671.3" r="4.4"/><circle cx="72.0" cy="665.2" r="4.4"/><circle cx="74.0" cy="661.0" r="4.4"/><circle cx="76.0" cy="654.9" r="4.4"/><circle cx="78.0" cy="647.8" r="4.4"/><circle cx="80.0" cy="641.7" r="4.4"/><circle cx="82.0" cy="633.1" r="4.4"/><circle cx="84.0" cy="624.3" r="4.4"/><circle cx="85.9" cy="613.1" r="4.4"/><circle cx="87.9" cy="601.7" r="4.4"/><circle cx="89.9" cy="588.8" r="4.4"/><circle cx="91.9" cy="572.9" r="4.4"/><circle cx="93.9" cy="551.2" r="4.4"/><circle cx="95.9" cy="539.5" r="4.4"/><circle cx="97.9" cy="527.5" r="4.4"/><circle cx="99.9" cy="515.8" r="4.4"/><circle cx="101.9" cy="503.3" r="4.4"/><circle cx="103.9" cy="493.5" r="4.4"/><circle cx="105.9" cy="484.6" r="4.4"/><circle cx="107.9" cy="476.2" r="4.4"/><circle cx="109.9" cy="471.2" r="4.4"/><circle cx="111.9" cy="467.0" r="4.4"/><circle cx="113.9" cy="460.1" r="4.4"/><circle cx="115.9" cy="457.9" r="4.4"/><circle cx="117.9" cy="459.3" r="4.4"/><circle cx="119.9" cy="464.9" r="4.4"/><circle cx="121.9" cy="470.3" r="4.4"/><circle cx="123.9" cy="478.1" r="4.4"/><circle cx="125.9" cy="484.3" r="4.4"/><circle cx="127.9" cy="490.5" r="4.4"/><circle cx="129.9" cy="497.3" r="4.4"/><circle cx="131.9" cy="503.6" r="4.4"/><circle cx="133.8" cy="511.1" r="4.4"/><circle cx="135.8" cy="516.0" r="4.4"/><circle cx="137.8" cy="523.2" r="4.4"/><circle cx="139.8" cy="530.5" r="4.4"/><circle cx="141.8" cy="538.4" r="4.4"/><circle cx="143.8" cy="543.0" r="4.4"/><circle cx="145.8" cy="549.2" r="4.4"/><circle cx="147.8" cy="556.6" r="4.4"/><circle cx="149.8" cy="570.7" r="4.4"/><circle cx="151.8" cy="578.9" r="4.4"/><circle cx="153.8" cy="585.4" r="4.4"/><circle cx="155.8" cy="587.9" r="4.4"/><circle cx="157.8" cy="595.3" r="4.4"/><circle cx="159.8" cy="601.0" r="4.4"/><circle cx="161.8" cy="605.3" r="4.4"/><circle cx="163.8" cy="613.2" r="4.4"/><circle cx="165.8" cy="623.7" r="4.4"/><circle cx="167.8" cy="633.0" r="4.4"/><circle cx="169.8" cy="645.4" r="4.4"/><circle cx="171.8" cy="652.5" r="4.4"/><circle cx="173.8" cy="659.6" r="4.4"/><circle cx="175.8" cy="669.9" r="4.4"/><circle cx="177.8" cy="679.5" r="4.4"/><circle cx="179.8" cy="687.2" r="4.4"/><circle cx="181.7" cy="691.7" r="4.4"/><circle cx="183.7" cy="696.2" r="4.4"/><circle cx="185.7" cy="700.2" r="4.4"/><circle cx="187.7" cy="703.9" r="4.4"/><circle cx="189.7" cy="705.3" r="4.4"/><circle cx="191.7" cy="707.2" r="4.4"/><circle cx="193.7" cy="708.4" r="4.4"/><circle cx="195.7" cy="712.9" r="4.4"/><circle cx="197.7" cy="713.3" r="4.4"/><circle cx="199.7" cy="715.7" r="4.4"/><circle cx="201.7" cy="715.3" r="4.4"/><circle cx="203.7" cy="715.3" r="4.4"/><circle cx="205.7" cy="716.7" r="4.4"/><circle cx="207.7" cy="716.7" r="4.4"/><circle cx="209.7" cy="716.0" r="4.4"/><circle cx="211.7" cy="716.4" r="4.4"/><circle cx="213.7" cy="718.4" r="4.4"/><circle cx="215.7" cy="717.0" r="4.4"/><circle cx="217.7" cy="716.5" r="4.4"/><circle cx="219.7" cy="715.4" r="4.4"/><circle cx="221.7" cy="714.4" r="4.4"/><circle cx="223.7" cy="714.6" r="4.4"/><circle cx="225.7" cy="712.5" r="4.4"/><circle cx="227.7" cy="710.6" r="4.4"/><circle cx="229.6" cy="709.8" r="4.4"/><circle cx="231.6" cy="708.0" r="4.4"/><circle cx="233.6" cy="707.7" r="4.4"/><circle cx="235.6" cy="707.3" r="4.4"/><circle cx="237.6" cy="704.6" r="4.4"/><circle cx="239.6" cy="705.1" r="4.4"/><circle cx="241.6" cy="702.1" r="4.4"/><circle cx="243.6" cy="701.4" r="4.4"/><circle cx="245.6" cy="699.3" r="4.4"/><circle cx="247.6" cy="698.5" r="4.4"/><circle cx="249.6" cy="697.5" r="4.4"/><circle cx="251.6" cy="695.9" r="4.4"/><circle cx="253.6" cy="694.5" r="4.4"/><circle cx="255.6" cy="693.5" r="4.4"/><circle cx="257.6" cy="692.5" r="4.4"/><circle cx="259.6" cy="691.0" r="4.4"/><circle cx="261.6" cy="691.2" r="4.4"/><circle cx="263.6" cy="691.1" r="4.4"/><circle cx="265.6" cy="691.1" r="4.4"/><circle cx="267.6" cy="690.6" r="4.4"/><circle cx="269.6" cy="691.7" r="4.4"/><circle cx="271.6" cy="689.8" r="4.4"/><circle cx="273.6" cy="689.1" r="4.4"/><circle cx="275.6" cy="691.2" r="4.4"/><circle cx="277.5" cy="689.3" r="4.4"/><circle cx="279.5" cy="691.5" r="4.4"/><circle cx="281.5" cy="690.5" r="4.4"/><circle cx="283.5" cy="692.2" r="4.4"/><circle cx="285.5" cy="691.2" r="4.4"/><circle cx="287.5" cy="694.4" r="4.4"/><circle cx="289.5" cy="694.5" r="4.4"/><circle cx="291.5" cy="694.6" r="4.4"/><circle cx="293.5" cy="697.4" r="4.4"/><circle cx="295.5" cy="697.3" r="4.4"/><circle cx="297.5" cy="697.3" r="4.4"/><circle cx="299.5" cy="697.3" r="4.4"/><circle cx="301.5" cy="698.4" r="4.4"/><circle cx="303.5" cy="698.9" r="4.4"/><circle cx="305.5" cy="700.2" r="4.4"/><circle cx="307.5" cy="700.9" r="4.4"/><circle cx="309.5" cy="700.4" r="4.4"/><circle cx="311.5" cy="701.3" r="4.4"/><circle cx="313.5" cy="702.1" r="4.4"/><circle cx="315.5" cy="702.2" r="4.4"/><circle cx="317.5" cy="703.6" r="4.4"/><circle cx="319.5" cy="704.7" r="4.4"/><circle cx="321.5" cy="706.0" r="4.4"/><circle cx="323.4" cy="707.3" r="4.4"/><circle cx="325.4" cy="706.4" r="4.4"/><circle cx="327.4" cy="708.5" r="4.4"/><circle cx="329.4" cy="708.7" r="4.4"/><circle cx="331.4" cy="711.7" r="4.4"/><circle cx="333.4" cy="711.1" r="4.4"/><circle cx="335.4" cy="712.6" r="4.4"/><circle cx="337.4" cy="712.5" r="4.4"/><circle cx="339.4" cy="713.6" r="4.4"/><circle cx="341.4" cy="715.4" r="4.4"/><circle cx="343.4" cy="715.8" r="4.4"/><circle cx="345.4" cy="717.3" r="4.4"/><circle cx="347.4" cy="716.5" r="4.4"/><circle cx="349.4" cy="718.8" r="4.4"/><circle cx="351.4" cy="718.0" r="4.4"/><circle cx="353.4" cy="720.4" r="4.4"/><circle cx="355.4" cy="719.1" r="4.4"/><circle cx="357.4" cy="720.3" r="4.4"/><circle cx="359.4" cy="718.0" r="4.4"/><circle cx="361.4" cy="718.8" r="4.4"/><circle cx="363.4" cy="716.8" r="4.4"/><circle cx="365.4" cy="716.1" r="4.4"/><circle cx="367.4" cy="715.4" r="4.4"/><circle cx="369.4" cy="713.8" r="4.4"/><circle cx="371.4" cy="712.8" r="4.4"/><circle cx="373.3" cy="711.4" r="4.4"/><circle cx="375.3" cy="709.3" r="4.4"/><circle cx="377.3" cy="706.3" r="4.4"/><circle cx="379.3" cy="702.5" r="4.4"/><circle cx="381.3" cy="699.7" r="4.4"/><circle cx="383.3" cy="696.4" r="4.4"/><circle cx="385.3" cy="690.6" r="4.4"/><circle cx="387.3" cy="688.9" r="4.4"/><circle cx="389.3" cy="684.1" r="4.4"/><circle cx="391.3" cy="680.1" r="4.4"/><circle cx="393.3" cy="677.0" r="4.4"/><circle cx="395.3" cy="672.7" r="4.4"/><circle cx="397.3" cy="668.6" r="4.4"/><circle cx="399.3" cy="664.3" r="4.4"/><circle cx="401.3" cy="662.2" r="4.4"/><circle cx="403.3" cy="659.3" r="4.4"/><circle cx="405.3" cy="655.7" r="4.4"/><circle cx="407.3" cy="655.8" r="4.4"/><circle cx="409.3" cy="654.9" r="4.4"/><circle cx="411.3" cy="653.8" r="4.4"/><circle cx="413.3" cy="657.6" r="4.4"/><circle cx="415.3" cy="659.9" r="4.4"/><circle cx="417.3" cy="666.4" r="4.4"/><circle cx="419.2" cy="671.0" r="4.4"/><circle cx="421.2" cy="674.3" r="4.4"/><circle cx="423.2" cy="679.7" r="4.4"/><circle cx="425.2" cy="686.5" r="4.4"/><circle cx="427.2" cy="692.4" r="4.4"/><circle cx="429.2" cy="699.8" r="4.4"/><circle cx="431.2" cy="705.0" r="4.4"/><circle cx="433.2" cy="709.4" r="4.4"/><circle cx="435.2" cy="715.1" r="4.4"/><circle cx="437.2" cy="717.6" r="4.4"/><circle cx="439.2" cy="723.9" r="4.4"/><circle cx="441.2" cy="728.2" r="4.4"/><circle cx="443.2" cy="730.6" r="4.4"/><circle cx="445.2" cy="733.0" r="4.4"/><circle cx="447.2" cy="736.4" r="4.4"/><circle cx="449.2" cy="739.5" r="4.4"/><circle cx="451.2" cy="739.9" r="4.4"/><circle cx="453.2" cy="740.5" r="4.4"/><circle cx="455.2" cy="743.9" r="4.4"/><circle cx="457.2" cy="742.5" r="4.4"/><circle cx="459.2" cy="745.7" r="4.4"/><circle cx="461.2" cy="746.0" r="4.4"/><circle cx="463.2" cy="748.2" r="4.4"/><circle cx="465.2" cy="747.7" r="4.4"/><circle cx="467.1" cy="750.2" r="4.4"/><circle cx="469.1" cy="749.9" r="4.4"/><circle cx="471.1" cy="748.7" r="4.4"/><circle cx="473.1" cy="748.9" r="4.4"/><circle cx="475.1" cy="750.5" r="4.4"/><circle cx="477.1" cy="752.1" r="4.4"/><circle cx="479.1" cy="751.5" r="4.4"/><circle cx="481.1" cy="751.7" r="4.4"/><circle cx="483.1" cy="751.7" r="4.4"/><circle cx="485.1" cy="752.7" r="4.4"/><circle cx="487.1" cy="752.6" r="4.4"/><circle cx="489.1" cy="752.8" r="4.4"/><circle cx="491.1" cy="751.9" r="4.4"/><circle cx="493.1" cy="753.8" r="4.4"/><circle cx="495.1" cy="754.1" r="4.4"/><circle cx="497.1" cy="752.1" r="4.4"/><circle cx="499.1" cy="755.1" r="4.4"/><circle cx="501.1" cy="753.9" r="4.4"/><circle cx="503.1" cy="753.0" r="4.4"/><circle cx="505.1" cy="752.0" r="4.4"/><circle cx="507.1" cy="754.1" r="4.4"/><circle cx="509.1" cy="754.1" r="4.4"/><circle cx="511.1" cy="753.2" r="4.4"/><circle cx="513.1" cy="752.4" r="4.4"/><circle cx="515.0" cy="754.8" r="4.4"/><circle cx="517.0" cy="753.5" r="4.4"/><circle cx="519.0" cy="753.7" r="4.4"/><circle cx="521.0" cy="756.5" r="4.4"/><circle cx="523.0" cy="756.0" r="4.4"/><circle cx="525.0" cy="755.1" r="4.4"/><circle cx="527.0" cy="754.1" r="4.4"/><circle cx="529.0" cy="755.0" r="4.4"/><circle cx="531.0" cy="752.7" r="4.4"/><circle cx="533.0" cy="754.7" r="4.4"/><circle cx="535.0" cy="754.1" r="4.4"/><circle cx="537.0" cy="753.7" r="4.4"/><circle cx="539.0" cy="753.5" r="4.4"/></g>
<path d="M200.0 717.5L201.0 717.5L202.0 717.5L203.0 717.4L204.0 717.4L205.0 717.3L206.0 717.3L207.0 717.2L208.0 717.2L209.0 717.1L210.0 717.1L211.0 717.0L212.0 717.0L213.0 717.0L214.0 716.9L215.0 716.9L216.0 716.8L217.0 716.8L218.0 716.7L219.0 716.7L220.0 716.6L221.0 716.6L222.0 716.6L223.0 716.5L224.0 716.5L225.0 716.4L226.0 716.4L227.0 716.4L228.0 716.3L229.0 716.2L230.0 716.2L231.0 716.1L232.0 716.0L233.0 715.9L234.0 715.8L235.0 715.7L236.0 715.6L237.0 715.4L238.0 715.3L239.0 715.2L240.0 715.0L241.0 714.9L242.0 714.7L243.0 714.5L244.0 714.4L245.0 714.2L246.0 714.1L247.0 713.9L248.0 713.7L249.0 713.6L250.0 713.4L251.0 713.3L252.0 713.1L253.0 713.0L254.0 712.8L255.0 712.7L256.0 712.5L257.0 712.4L258.0 712.2L259.0 712.1L260.0 711.9L261.0 711.8L262.0 711.6L263.0 711.5L264.0 711.3L265.0 711.2L266.0 711.0L267.0 710.9L268.0 710.7L269.0 710.6L270.0 710.4L271.0 710.3L272.0 710.2L273.0 710.0L274.0 709.9L275.0 709.7L276.0 709.6L277.0 709.4L278.0 709.3L279.0 709.2L280.0 709.0L281.0 708.9L282.0 708.7L283.0 708.6L284.0 708.5L285.0 708.3L286.0 708.2L287.0 708.1L288.0 707.9L289.0 707.8L290.0 707.7L291.0 707.6L292.0 707.5L293.0 707.4L294.0 707.3L295.0 707.2L296.0 707.1L297.0 707.0L298.0 706.9L299.0 706.8L300.0 706.7L301.0 706.6L302.0 706.6L303.0 706.5L304.0 706.5L305.0 706.5L306.0 706.5L307.0 706.5L308.0 706.6L309.0 706.7L310.0 706.8L311.0 707.0L312.0 707.1L313.0 707.3L314.0 707.5L315.0 707.7L316.0 707.9L317.0 708.1L318.0 708.4L319.0 708.6L320.0 708.9L321.0 709.2L322.0 709.5L323.0 709.8L324.0 710.1L325.0 710.5L326.0 710.8L327.0 711.2L328.0 711.5L329.0 711.9L330.0 712.3L331.0 712.7L332.0 713.1L333.0 713.5L334.0 713.9L335.0 714.3L336.0 714.7L337.0 715.1L338.0 715.5L339.0 715.8L340.0 716.2L341.0 716.5L342.0 716.9L343.0 717.2L344.0 717.6L345.0 717.9L346.0 718.3L347.0 718.6L348.0 719.0L349.0 719.4L350.0 719.8L351.0 720.2L352.0 720.6L353.0 721.0L354.0 721.5L355.0 721.9L356.0 722.4L357.0 722.9L358.0 723.4L359.0 723.8L360.0 724.3L361.0 724.8L362.0 725.2L363.0 725.7L364.0 726.1L365.0 726.5L366.0 726.9L367.0 727.3L368.0 727.6L369.0 728.0L370.0 728.3L371.0 728.6L372.0 728.9L373.0 729.2L374.0 729.5L375.0 729.8L376.0 730.1L377.0 730.4L378.0 730.7L379.0 731.0L380.0 731.3L381.0 731.6L382.0 732.0L383.0 732.3L384.0 732.6L385.0 733.0L386.0 733.3L387.0 733.6L388.0 734.0L389.0 734.3L390.0 734.7L391.0 735.0L392.0 735.4L393.0 735.7L394.0 736.1L395.0 736.5L396.0 736.8L397.0 737.2L398.0 737.5L399.0 737.9L400.0 738.3L401.0 738.6L402.0 739.0L403.0 739.3L404.0 739.7L405.0 740.0L406.0 740.4L407.0 740.7L408.0 741.1L409.0 741.4L410.0 741.8L411.0 742.1L412.0 742.5L413.0 742.8L414.0 743.2L415.0 743.5L416.0 743.9L417.0 744.2L418.0 744.6L419.0 744.9L420.0 745.3L421.0 745.6L422.0 745.9L423.0 746.3L424.0 746.6L425.0 746.8L426.0 747.0" fill="none" stroke="#2424b4" stroke-width="1.6"/>
<path d="M60.0 685.5L61.0 684.8L62.0 684.1L63.0 683.2L64.0 682.2L65.0 681.1L66.0 679.9L67.0 678.5L68.0 677.0L69.0 675.3L70.0 673.5L71.0 671.4L72.0 669.1L73.0 666.7L74.0 663.9L75.0 661.0L76.0 657.8L77.0 654.3L78.0 650.6L79.0 646.6L80.0 642.3L81.0 637.8L82.0 632.9L83.0 627.8L84.0 622.4L85.0 616.8L86.0 610.9L87.0 604.8L88.0 598.5L89.0 592.0L90.0 585.3L91.0 578.5L92.0 571.5L93.0 564.5L94.0 557.4L95.0 550.3L96.0 543.3L97.0 536.2L98.0 529.3L99.0 522.5L100.0 515.9L101.0 509.6L102.0 503.4L103.0 497.6L104.0 492.1L105.0 487.0L106.0 482.3L107.0 478.0L108.0 474.1L109.0 470.8L110.0 467.9L111.0 465.6L112.0 463.7L113.0 462.4L114.0 461.6L115.0 461.2L116.0 461.3L117.0 461.8L118.0 462.8L119.0 464.3L120.0 466.4L121.0 468.9L122.0 472.0L123.0 475.6L124.0 479.6L125.0 484.1L126.0 489.0L127.0 494.3L128.0 499.9L129.0 505.8L130.0 512.0L131.0 518.4L132.0 525.0L133.0 531.8L134.0 538.7L135.0 545.7L136.0 552.8L137.0 559.9L138.0 567.0L139.0 574.0L140.0 581.0L141.0 587.9L142.0 594.7L143.0 601.4L144.0 607.9L145.0 614.2L146.0 620.4L147.0 626.3L148.0 632.0L149.0 637.6L150.0 642.8L151.0 647.9L152.0 652.7L153.0 657.3L154.0 661.6L155.0 665.7L156.0 669.6L157.0 673.2L158.0 676.6L159.0 679.8L160.0 682.8L161.0 685.6L162.0 688.2L163.0 690.5L164.0 692.8L165.0 694.8L166.0 696.7L167.0 698.4L168.0 700.0L169.0 701.4L170.0 702.7L171.0 704.0L172.0 705.1L173.0 706.1L174.0 707.0L175.0 707.8L176.0 708.5L177.0 709.2L178.0 709.8L179.0 710.4L180.0 710.9L181.0 711.4L182.0 711.8L183.0 712.2L184.0 712.5L185.0 712.8L186.0 713.1L187.0 713.4L188.0 713.6L189.0 713.9L190.0 714.1L191.0 714.3L192.0 714.5L193.0 714.6L194.0 714.8L195.0 714.9L196.0 715.1L197.0 715.2L198.0 715.3L199.0 715.4L200.0 715.6L201.0 715.7L202.0 715.8L203.0 715.9L204.0 716.0L205.0 716.0L206.0 716.1L207.0 716.2L208.0 716.3L209.0 716.4L210.0 716.5L211.0 716.5L212.0 716.6L213.0 716.7L214.0 716.8L215.0 716.9L216.0 717.0L217.0 717.1L218.0 717.2L219.0 717.3L220.0 717.4L221.0 717.5L222.0 717.5L223.0 717.6L224.0 717.7L225.0 717.8L226.0 717.9L227.0 717.9L228.0 718.0L229.0 718.1L230.0 718.1L231.0 718.2L232.0 718.2L233.0 718.3L234.0 718.4L235.0 718.4L236.0 718.5L237.0 718.5L238.0 718.6L239.0 718.7L240.0 718.7L241.0 718.8L242.0 718.8L243.0 718.9L244.0 719.0L245.0 719.0L246.0 719.1L247.0 719.2L248.0 719.2L249.0 719.3L250.0 719.4L251.0 719.5L252.0 719.5L253.0 719.6L254.0 719.7L255.0 719.9L256.0 720.0L257.0 720.1L258.0 720.2L259.0 720.4L260.0 720.5L261.0 720.7L262.0 720.8L263.0 721.0L264.0 721.1L265.0 721.3L266.0 721.5L267.0 721.6L268.0 721.8L269.0 721.9L270.0 722.1L271.0 722.2L272.0 722.4L273.0 722.6L274.0 722.7L275.0 722.8" fill="none" stroke="#e030e0" stroke-width="1.6"/>
<path d="M106.0 699.8L107.0 700.0L108.0 700.1L109.0 700.3L110.0 700.3L111.0 700.3L112.0 700.2L113.0 700.2L114.0 700.2L115.0 700.2L116.0 700.1L117.0 699.9L118.0 699.7L119.0 699.5L120.0 699.1L121.0 698.6L122.0 698.1L123.0 697.4L124.0 696.7L125.0 695.8L126.0 694.8L127.0 693.7L128.0 692.5L129.0 691.1L130.0 689.6L131.0 687.9L132.0 686.2L133.0 684.2L134.0 682.2L135.0 680.0L136.0 677.7L137.0 675.3L138.0 672.8L139.0 670.3L140.0 667.6L141.0 664.9L142.0 662.1L143.0 659.3L144.0 656.6L145.0 653.8L146.0 651.1L147.0 648.5L148.0 645.9L149.0 643.5L150.0 641.3L151.0 639.2L152.0 637.4L153.0 635.7L154.0 634.4L155.0 633.3L156.0 632.5L157.0 632.1L158.0 632.0L159.0 632.5L160.0 633.3L161.0 634.5L162.0 636.0L163.0 637.8L164.0 639.9L165.0 642.2L166.0 644.7L167.0 647.5L168.0 650.3L169.0 653.4L170.0 656.5L171.0 659.6L172.0 662.8L173.0 666.1L174.0 669.3L175.0 672.5L176.0 675.6L177.0 678.6L178.0 681.6L179.0 684.4L180.0 687.2L181.0 689.8L182.0 692.3L183.0 694.7L184.0 696.9L185.0 698.9L186.0 700.9L187.0 702.7L188.0 704.3L189.0 705.9L190.0 707.3L191.0 708.5L192.0 709.7L193.0 710.7L194.0 711.7L195.0 712.5L196.0 713.3L197.0 714.0L198.0 714.6L199.0 715.1L200.0 715.6L201.0 716.0L202.0 716.5L203.0 717.0L204.0 717.4L205.0 717.8L206.0 718.0L207.0 718.2L208.0 718.3" fill="none" stroke="#f39a2c" stroke-width="1.6"/>
<path d="M213.0 718.4L214.0 718.4L215.0 718.4L216.0 718.3L217.0 718.2L218.0 718.1L219.0 718.0L220.0 717.8L221.0 717.6L222.0 717.3L223.0 717.0L224.0 716.8L225.0 716.6L226.0 716.4L227.0 716.2L228.0 716.0L229.0 715.7L230.0 715.4L231.0 715.1L232.0 714.8L233.0 714.4L234.0 714.0L235.0 713.6L236.0 713.2L237.0 712.8L238.0 712.3L239.0 711.8L240.0 711.3L241.0 710.8L242.0 710.2L243.0 709.6L244.0 709.0L245.0 708.4L246.0 707.8L247.0 707.1L248.0 706.5L249.0 705.8L250.0 705.2L251.0 704.5L252.0 703.9L253.0 703.2L254.0 702.6L255.0 702.0L256.0 701.4L257.0 700.8L258.0 700.3L259.0 699.8L260.0 699.3L261.0 698.9L262.0 698.6L263.0 698.2L264.0 698.0L265.0 697.8L266.0 697.7L267.0 697.7L268.0 697.8L269.0 698.0L270.0 698.2L271.0 698.5L272.0 698.8L273.0 699.2L274.0 699.7L275.0 700.2L276.0 700.8L277.0 701.4L278.0 702.1L279.0 702.9L280.0 703.7L281.0 704.5L282.0 705.4L283.0 706.4L284.0 707.3L285.0 708.3L286.0 709.3L287.0 710.3L288.0 711.4L289.0 712.4L290.0 713.4L291.0 714.4L292.0 715.3L293.0 716.3L294.0 717.2L295.0 718.1L296.0 718.9L297.0 719.7L298.0 720.5L299.0 721.2L300.0 721.9L301.0 722.5L302.0 723.1L303.0 723.7L304.0 724.2L305.0 724.6L306.0 725.1L307.0 725.7L308.0 726.2L309.0 726.7L310.0 727.0L311.0 727.3L312.0 727.5" fill="none" stroke="#229322" stroke-width="1.6"/>
<path d="M316.0 728.0L317.0 728.1L318.0 728.2L319.0 728.3L320.0 728.4L321.0 728.5L322.0 728.6L323.0 728.7L324.0 728.8L325.0 728.9L326.0 729.0L327.0 729.1L328.0 729.2L329.0 729.2L330.0 729.3L331.0 729.4L332.0 729.5L333.0 729.5L334.0 729.6L335.0 729.6L336.0 729.7L337.0 729.7L338.0 729.8L339.0 729.8L340.0 729.8L341.0 729.7L342.0 729.7L343.0 729.6L344.0 729.6L345.0 729.4L346.0 729.4L347.0 729.4L348.0 729.3L349.0 729.2L350.0 729.1L351.0 729.0L352.0 728.9L353.0 728.7L354.0 728.6L355.0 728.4L356.0 728.1L357.0 727.9L358.0 727.6L359.0 727.2L360.0 726.9L361.0 726.4L362.0 726.0L363.0 725.5L364.0 724.9L365.0 724.3L366.0 723.6L367.0 722.9L368.0 722.1L369.0 721.2L370.0 720.3L371.0 719.3L372.0 718.2L373.0 717.0L374.0 715.8L375.0 714.5L376.0 713.1L377.0 711.6L378.0 710.0L379.0 708.4L380.0 706.7L381.0 704.9L382.0 703.0L383.0 701.1L384.0 699.1L385.0 697.0L386.0 694.9L387.0 692.7L388.0 690.5L389.0 688.3L390.0 686.0L391.0 683.7L392.0 681.4L393.0 679.2L394.0 676.9L395.0 674.7L396.0 672.6L397.0 670.5L398.0 668.4L399.0 666.5L400.0 664.7L401.0 663.0L402.0 661.5L403.0 660.1L404.0 658.9L405.0 657.8L406.0 657.0L407.0 656.4L408.0 656.0L409.0 655.9L410.0 656.0L411.0 656.6L412.0 657.5L413.0 658.9L414.0 660.5L415.0 662.3L416.0 664.4L417.0 666.7L418.0 669.1L419.0 671.7L420.0 674.4L421.0 677.1L422.0 679.9L423.0 682.8L424.0 685.7L425.0 688.6L426.0 691.4L427.0 694.3L428.0 697.1L429.0 699.9L430.0 702.6L431.0 705.2L432.0 707.8L433.0 710.3L434.0 712.8L435.0 715.1L436.0 717.4L437.0 719.5L438.0 721.6L439.0 723.6L440.0 725.5L441.0 727.4L442.0 729.1L443.0 730.7L444.0 732.3L445.0 733.8L446.0 735.2L447.0 736.5L448.0 737.7L449.0 738.9L450.0 740.0L451.0 741.0L452.0 741.9L453.0 742.8L454.0 743.7L455.0 744.5L456.0 745.2L457.0 745.9L458.0 746.5L459.0 747.1L460.0 747.7L461.0 748.2L462.0 748.6L463.0 749.1L464.0 749.5L465.0 749.8L466.0 750.2L467.0 750.5L468.0 750.8L469.0 751.0L470.0 751.3L471.0 751.5L472.0 751.7L473.0 751.9L474.0 752.2L475.0 752.4L476.0 752.7L477.0 752.9L478.0 753.0L479.0 753.2L480.0 753.4L481.0 753.5L482.0 753.6L483.0 753.7L484.0 753.8L485.0 753.9L486.0 754.0L487.0 754.1L488.0 754.1L489.0 754.2L490.0 754.3L491.0 754.3L492.0 754.4L493.0 754.4L494.0 754.5L495.0 754.5L496.0 754.6" fill="none" stroke="#8a2be2" stroke-width="1.6"/>
<path d="M60.0 693.8L61.0 693.9L62.0 693.9L63.0 693.9L64.0 693.9L65.0 694.0L66.0 694.0L67.0 694.1L68.0 694.1L69.0 694.2L70.0 694.2L71.0 694.3L72.0 694.4L73.0 694.4L74.0 694.5L75.0 694.6L76.0 694.7L77.0 694.7L78.0 694.8L79.0 694.9L80.0 695.0L81.0 695.1L82.0 695.2L83.0 695.4L84.0 695.5L85.0 695.6L86.0 695.7L87.0 695.9L88.0 696.0L89.0 696.2L90.0 696.4L91.0 696.5L92.0 696.7L93.0 696.9L94.0 697.1L95.0 697.3L96.0 697.5L97.0 697.7L98.0 697.9L99.0 698.1L100.0 698.4L101.0 698.6L102.0 698.9L103.0 699.2L104.0 699.4L105.0 699.7L106.0 700.0L107.0 700.3L108.0 700.6L109.0 701.0L110.0 701.3L111.0 701.7L112.0 702.0L113.0 702.4L114.0 702.8L115.0 703.2L116.0 703.6L117.0 704.0L118.0 704.3L119.0 704.7L120.0 705.1L121.0 705.5L122.0 705.8L123.0 706.2L124.0 706.5L125.0 706.9L126.0 707.2L127.0 707.5L128.0 707.8L129.0 708.2L130.0 708.4L131.0 708.7L132.0 709.0L133.0 709.3L134.0 709.5L135.0 709.8L136.0 710.0L137.0 710.3L138.0 710.5L139.0 710.7L140.0 710.9L141.0 711.2L142.0 711.4L143.0 711.6L144.0 711.8L145.0 712.0L146.0 712.2L147.0 712.4L148.0 712.5L149.0 712.7L150.0 712.9L151.0 713.1L152.0 713.3L153.0 713.5L154.0 713.6L155.0 713.8L156.0 714.0L157.0 714.2L158.0 714.3L159.0 714.5L160.0 714.7L161.0 714.8L162.0 715.0L163.0 715.1L164.0 715.3L165.0 715.5L166.0 715.6L167.0 715.7L168.0 715.9L169.0 716.0L170.0 716.1L171.0 716.2L172.0 716.3L173.0 716.4L174.0 716.6L175.0 716.6L176.0 716.7L177.0 716.8L178.0 716.9L179.0 717.0L180.0 717.1L181.0 717.2L182.0 717.2L183.0 717.3L184.0 717.4L185.0 717.4L186.0 717.5L187.0 717.6L188.0 717.6L189.0 717.7L190.0 717.7L191.0 717.8L192.0 717.9L193.0 717.9L194.0 718.0L195.0 718.0L196.0 718.1L197.0 718.1L198.0 718.1L199.0 718.2L200.0 718.2L201.0 718.3L202.0 718.3L203.0 718.3L204.0 718.4L205.0 718.4L206.0 718.5L207.0 718.5L208.0 718.5L209.0 718.6L210.0 718.6L211.0 718.6L212.0 718.7L213.0 718.7L214.0 718.7L215.0 718.8L216.0 718.8L217.0 718.8L218.0 718.9L219.0 718.9L220.0 718.9L221.0 718.9L222.0 719.0L223.0 719.0L224.0 719.0L225.0 719.1L226.0 719.1L227.0 719.1L228.0 719.1L229.0 719.2L230.0 719.2L231.0 719.2L232.0 719.3L233.0 719.3L234.0 719.3L235.0 719.3L236.0 719.4L237.0 719.4L238.0 719.4L239.0 719.5L240.0 719.5L241.0 719.5L242.0 719.6L243.0 719.6L244.0 719.7L245.0 719.7L246.0 719.7L247.0 719.8L248.0 719.8L249.0 719.9L250.0 720.0L251.0 720.0L252.0 720.1L253.0 720.2L254.0 720.3L255.0 720.4L256.0 720.5L257.0 720.6L258.0 720.7L259.0 720.8L260.0 720.9L261.0 721.1L262.0 721.2L263.0 721.4L264.0 721.5L265.0 721.7L266.0 721.8L267.0 722.0L268.0 722.1L269.0 722.3L270.0 722.4L271.0 722.6L272.0 722.7L273.0 722.9L274.0 723.0L275.0 723.1L276.0 723.3L277.0 723.4L278.0 723.5L279.0 723.7L280.0 723.8L281.0 723.9L282.0 724.1L283.0 724.2L284.0 724.3L285.0 724.5L286.0 724.6L287.0 724.7L288.0 724.9L289.0 725.0L290.0 725.1L291.0 725.2L292.0 725.4L293.0 725.5L294.0 725.6L295.0 725.7L296.0 725.9L297.0 726.0L298.0 726.1L299.0 726.2L300.0 726.4L301.0 726.5L302.0 726.6L303.0 726.7L304.0 726.9L305.0 727.0L306.0 727.1L307.0 727.2L308.0 727.3L309.0 727.4L310.0 727.6L311.0 727.7L312.0 727.8L313.0 727.9L314.0 728.0L315.0 728.2L316.0 728.3L317.0 728.4L318.0 728.5L319.0 728.6L320.0 728.7L321.0 728.9L322.0 729.0L323.0 729.1L324.0 729.2L325.0 729.3L326.0 729.4L327.0 729.6L328.0 729.7L329.0 729.8L330.0 729.9L331.0 730.0L332.0 730.1L333.0 730.2L334.0 730.4L335.0 730.5L336.0 730.6L337.0 730.7L338.0 730.8L339.0 730.9L340.0 731.0L341.0 731.1L342.0 731.2L343.0 731.3L344.0 731.4L345.0 731.5L346.0 731.6L347.0 731.6L348.0 731.7L349.0 731.8L350.0 731.9L351.0 732.0L352.0 732.1L353.0 732.2L354.0 732.3L355.0 732.4L356.0 732.5L357.0 732.6L358.0 732.7L359.0 732.8L360.0 732.9L361.0 733.0L362.0 733.1L363.0 733.2L364.0 733.3L365.0 733.4L366.0 733.5L367.0 733.7L368.0 733.8L369.0 733.9L370.0 734.0L371.0 734.2L372.0 734.3L373.0 734.5L374.0 734.6L375.0 734.7L376.0 734.9L377.0 735.0L378.0 735.2L379.0 735.3L380.0 735.5L381.0 735.7L382.0 735.8L383.0 736.0L384.0 736.2L385.0 736.4L386.0 736.6L387.0 736.8L388.0 737.0L389.0 737.2L390.0 737.4L391.0 737.6L392.0 737.9L393.0 738.1L394.0 738.3L395.0 738.6L396.0 738.8L397.0 739.1L398.0 739.3L399.0 739.6L400.0 739.8L401.0 740.1L402.0 740.3L403.0 740.6L404.0 740.9L405.0 741.2L406.0 741.4L407.0 741.7L408.0 742.0L409.0 742.3L410.0 742.7L411.0 743.0L412.0 743.3L413.0 743.6L414.0 743.9L415.0 744.3L416.0 744.6L417.0 744.9L418.0 745.2L419.0 745.5L420.0 745.8L421.0 746.1L422.0 746.4L423.0 746.7L424.0 747.0L425.0 747.2L426.0 747.5L427.0 747.7L428.0 747.9L429.0 748.2L430.0 748.4L431.0 748.6L432.0 748.8L433.0 749.0L434.0 749.2L435.0 749.4L436.0 749.6L437.0 749.8L438.0 750.0L439.0 750.1L440.0 750.3L441.0 750.5L442.0 750.6L443.0 750.8L444.0 750.9L445.0 751.1L446.0 751.2L447.0 751.4L448.0 751.5L449.0 751.7L450.0 751.8L451.0 751.9L452.0 752.1L453.0 752.2L454.0 752.3L455.0 752.4L456.0 752.5L457.0 752.7L458.0 752.8L459.0 752.9L460.0 753.0L461.0 753.1L462.0 753.2L463.0 753.3L464.0 753.4L465.0 753.4L466.0 753.5L467.0 753.6L468.0 753.7L469.0 753.7L470.0 753.8L471.0 753.9L472.0 753.9L473.0 754.0L474.0 754.0L475.0 754.1L476.0 754.1L477.0 754.2L478.0 754.2L479.0 754.3L480.0 754.3L481.0 754.4L482.0 754.4L483.0 754.4L484.0 754.5L485.0 754.5L486.0 754.6L487.0 754.6L488.0 754.6L489.0 754.7L490.0 754.7L491.0 754.7L492.0 754.8L493.0 754.8L494.0 754.8L495.0 754.9L496.0 754.9L497.0 754.9L498.0 754.9L499.0 755.0L500.0 755.0L501.0 755.0L502.0 755.1L503.0 755.1L504.0 755.1L505.0 755.1L506.0 755.2L507.0 755.2L508.0 755.2L509.0 755.2L510.0 755.3L511.0 755.3L512.0 755.3L513.0 755.3L514.0 755.4L515.0 755.4L516.0 755.4L517.0 755.4L518.0 755.5L519.0 755.5L520.0 755.5L521.0 755.5L522.0 755.5L523.0 755.6L524.0 755.6L525.0 755.6L526.0 755.6L527.0 755.6L528.0 755.6L529.0 755.7L530.0 755.7L531.0 755.7L532.0 755.7L533.0 755.7L534.0 755.7L535.0 755.7L536.0 755.8L537.0 755.8L538.0 755.8L539.0 755.8" fill="none" stroke="#8f1a8f" stroke-width="1.6"/>
<path d="M60.0 686.7L61.0 685.2L62.0 683.6L63.0 682.2L64.0 680.8L65.0 679.4L66.0 677.9L67.0 676.3L68.0 674.5L69.0 672.5L70.0 670.3L71.0 667.9L72.0 665.4L73.0 662.9L74.0 660.3L75.0 657.5L76.0 654.6L77.0 651.5L78.0 648.1L79.0 644.5L80.0 640.8L81.0 637.1L82.0 633.2L83.0 628.9L84.0 624.3L85.0 619.3L86.0 613.4L87.0 607.1L88.0 601.0L89.0 594.9L90.0 588.4L91.0 581.5L92.0 571.7L93.0 560.7L94.0 551.2L95.0 544.8L96.0 539.0L97.0 533.5L98.0 527.7L99.0 521.7L100.0 514.5L101.0 507.9L102.0 502.8L103.0 497.9L104.0 492.8L105.0 488.1L106.0 483.9L107.0 480.1L108.0 476.6L109.0 473.3L110.0 470.3L111.0 467.5L112.0 465.0L113.0 462.8L114.0 461.2L115.0 460.0L116.0 459.2L117.0 459.6L118.0 460.7L119.0 462.2L120.0 464.6L121.0 467.4L122.0 470.6L123.0 474.2L124.0 477.6L125.0 480.9L126.0 484.2L127.0 487.4L128.0 490.8L129.0 494.2L130.0 497.6L131.0 500.9L132.0 504.3L133.0 507.6L134.0 510.9L135.0 514.2L136.0 517.4L137.0 520.7L138.0 524.1L139.0 527.5L140.0 530.9L141.0 534.2L142.0 537.6L143.0 540.9L144.0 544.2L145.0 547.4L146.0 550.6L147.0 554.1L148.0 557.7L149.0 563.2L150.0 571.4L151.0 576.4L152.0 579.7L153.0 582.3L154.0 584.8L155.0 587.4L156.0 589.8L157.0 592.3L158.0 594.9L159.0 597.8L160.0 600.8L161.0 604.0L162.0 607.1L163.0 610.2L164.0 613.9L165.0 618.7L166.0 623.8L167.0 628.6L168.0 634.5L169.0 641.5L170.0 645.3L171.0 648.2L172.0 651.5L173.0 655.8L174.0 660.5L175.0 665.7L176.0 671.6L177.0 677.0L178.0 681.1L179.0 684.4L180.0 687.3L181.0 690.0L182.0 692.4L183.0 694.7L184.0 696.9L185.0 698.9L186.0 700.7L187.0 702.4L188.0 703.8L189.0 705.2L190.0 706.5L191.0 707.7L192.0 708.8L193.0 709.8L194.0 710.6L195.0 711.4L196.0 712.1L197.0 712.8L198.0 713.5L199.0 714.1L200.0 714.6L201.0 715.1L202.0 715.4L203.0 715.8L204.0 716.0L205.0 716.2L206.0 716.4L207.0 716.6L208.0 716.8L209.0 716.9L210.0 717.0L211.0 717.1L212.0 717.1L213.0 717.1L214.0 717.0L215.0 716.8L216.0 716.6L217.0 716.4L218.0 716.1L219.0 715.8L220.0 715.5L221.0 715.2L222.0 714.8L223.0 714.3L224.0 713.7L225.0 713.0L226.0 712.3L227.0 711.6L228.0 711.0L229.0 710.3L230.0 709.7L231.0 709.1L232.0 708.5L233.0 708.0L234.0 707.4L235.0 706.8L236.0 706.2L237.0 705.6L238.0 705.0L239.0 704.4L240.0 703.7L241.0 703.0L242.0 702.4L243.0 701.7L244.0 701.0L245.0 700.4L246.0 699.7L247.0 699.1L248.0 698.5L249.0 697.8L250.0 697.2L251.0 696.6L252.0 696.0L253.0 695.4L254.0 694.9L255.0 694.3L256.0 693.9L257.0 693.4L258.0 692.9L259.0 692.5L260.0 692.0L261.0 691.6L262.0 691.3L263.0 691.0L264.0 690.7L265.0 690.5L266.0 690.3L267.0 690.1L268.0 690.0L269.0 689.8L270.0 689.7L271.0 689.6L272.0 689.5L273.0 689.5L274.0 689.5L275.0 689.6L276.0 689.8L277.0 690.0L278.0 690.3L279.0 690.5L280.0 690.8L281.0 691.1L282.0 691.4L283.0 691.7L284.0 692.1L285.0 692.5L286.0 693.0L287.0 693.5L288.0 693.9L289.0 694.4L290.0 694.8L291.0 695.2L292.0 695.5L293.0 695.8L294.0 696.2L295.0 696.5L296.0 696.8L297.0 697.1L298.0 697.4L299.0 697.7L300.0 698.0L301.0 698.3L302.0 698.6L303.0 698.9L304.0 699.2L305.0 699.5L306.0 699.8L307.0 700.1L308.0 700.4L309.0 700.8L310.0 701.2L311.0 701.6L312.0 701.9L313.0 702.3L314.0 702.7L315.0 703.1L316.0 703.5L317.0 703.9L318.0 704.3L319.0 704.6L320.0 705.0L321.0 705.3L322.0 705.7L323.0 706.1L324.0 706.5L325.0 706.9L326.0 707.3L327.0 707.8L328.0 708.3L329.0 708.8L330.0 709.3L331.0 709.9L332.0 710.4L333.0 710.9L334.0 711.4L335.0 711.9L336.0 712.5L337.0 713.0L338.0 713.5L339.0 714.0L340.0 714.5L341.0 715.0L342.0 715.5L343.0 715.9L344.0 716.4L345.0 716.9L346.0 717.3L347.0 717.6L348.0 718.0L349.0 718.2L350.0 718.4L351.0 718.6L352.0 718.8L353.0 719.0L354.0 719.2L355.0 719.3L356.0 719.4L357.0 719.4L358.0 719.4L359.0 719.2L360.0 718.9L361.0 718.6L362.0 718.1L363.0 717.7L364.0 717.2L365.0 716.7L366.0 716.2L367.0 715.6L368.0 715.0L369.0 714.3L370.0 713.6L371.0 712.8L372.0 712.0L373.0 711.1L374.0 710.2L375.0 709.2L376.0 708.1L377.0 706.8L378.0 705.5L379.0 704.1L380.0 702.5L381.0 700.9L382.0 699.2L383.0 697.2L384.0 695.1L385.0 693.0L386.0 690.9L387.0 688.9L388.0 686.9L389.0 684.9L390.0 682.9L391.0 680.9L392.0 678.9L393.0 676.9L394.0 674.8L395.0 672.8L396.0 670.8L397.0 669.0L398.0 667.2L399.0 665.6L400.0 664.0L401.0 662.4L402.0 660.9L403.0 659.5L404.0 657.9L405.0 656.7L406.0 655.8L407.0 655.2L408.0 654.7L409.0 654.5L410.0 654.7L411.0 655.2L412.0 655.9L413.0 657.1L414.0 658.6L415.0 660.4L416.0 662.5L417.0 664.9L418.0 667.4L419.0 669.7L420.0 672.1L421.0 674.6L422.0 677.1L423.0 679.8L424.0 682.7L425.0 685.7L426.0 688.8L427.0 691.9L428.0 694.9L429.0 697.9L430.0 700.9L431.0 703.7L432.0 706.5L433.0 709.1L434.0 711.6L435.0 714.1L436.0 716.4L437.0 718.7L438.0 721.0L439.0 723.2L440.0 725.3L441.0 727.2L442.0 728.8L443.0 730.4L444.0 731.9L445.0 733.3L446.0 734.6L447.0 735.7L448.0 736.8L449.0 737.8L450.0 738.7L451.0 739.6L452.0 740.4L453.0 741.2L454.0 742.0L455.0 742.7L456.0 743.3L457.0 743.9L458.0 744.6L459.0 745.2L460.0 745.8L461.0 746.3L462.0 746.9L463.0 747.4L464.0 747.9L465.0 748.3L466.0 748.7L467.0 749.1L468.0 749.4L469.0 749.6L470.0 749.9L471.0 750.1L472.0 750.3L473.0 750.4L474.0 750.6L475.0 750.8L476.0 750.9L477.0 751.1L478.0 751.2L479.0 751.3L480.0 751.5L481.0 751.6L482.0 751.7L483.0 751.8L484.0 752.0L485.0 752.1L486.0 752.2L487.0 752.3L488.0 752.4L489.0 752.5L490.0 752.6L491.0 752.7L492.0 752.8L493.0 752.9L494.0 753.0L495.0 753.0L496.0 753.1L497.0 753.1L498.0 753.2L499.0 753.2L500.0 753.3L501.0 753.3L502.0 753.4L503.0 753.4L504.0 753.4L505.0 753.5L506.0 753.5L507.0 753.5L508.0 753.6L509.0 753.6L510.0 753.7L511.0 753.7L512.0 753.7L513.0 753.8L514.0 753.8L515.0 753.9L516.0 753.9L517.0 754.0L518.0 754.0L519.0 754.1L520.0 754.1L521.0 754.2L522.0 754.2L523.0 754.3L524.0 754.3L525.0 754.4L526.0 754.4L527.0 754.4L528.0 754.5L529.0 754.5L530.0 754.5L531.0 754.6L532.0 754.6L533.0 754.6L534.0 754.7L535.0 754.7L536.0 754.7L537.0 754.7L538.0 754.8L539.0 754.8" fill="none" stroke="#e3151b" stroke-width="2.5" stroke-dasharray="5 3.5"/>
</g>
<g clip-path="url(#clipc)">
<g fill="none" stroke="#626262" stroke-width="1.15"><circle cx="60.0" cy="1103.8" r="4.4"/><circle cx="62.0" cy="1099.4" r="4.4"/><circle cx="64.0" cy="1100.9" r="4.4"/><circle cx="66.0" cy="1099.3" r="4.4"/><circle cx="68.0" cy="1098.4" r="4.4"/><circle cx="70.0" cy="1097.6" r="4.4"/><circle cx="72.0" cy="1095.1" r="4.4"/><circle cx="74.0" cy="1095.4" r="4.4"/><circle cx="76.0" cy="1093.5" r="4.4"/><circle cx="78.0" cy="1095.1" r="4.4"/><circle cx="80.0" cy="1090.5" r="4.4"/><circle cx="82.0" cy="1087.8" r="4.4"/><circle cx="84.0" cy="1085.6" r="4.4"/><circle cx="85.9" cy="1082.8" r="4.4"/><circle cx="87.9" cy="1079.8" r="4.4"/><circle cx="89.9" cy="1077.3" r="4.4"/><circle cx="91.9" cy="1074.6" r="4.4"/><circle cx="93.9" cy="1069.9" r="4.4"/><circle cx="95.9" cy="1065.2" r="4.4"/><circle cx="97.9" cy="1057.6" r="4.4"/><circle cx="99.9" cy="1051.6" r="4.4"/><circle cx="101.9" cy="1048.2" r="4.4"/><circle cx="103.9" cy="1043.5" r="4.4"/><circle cx="105.9" cy="1037.5" r="4.4"/><circle cx="107.9" cy="1031.7" r="4.4"/><circle cx="109.9" cy="1026.2" r="4.4"/><circle cx="111.9" cy="1021.2" r="4.4"/><circle cx="113.9" cy="1013.8" r="4.4"/><circle cx="115.9" cy="1008.7" r="4.4"/><circle cx="117.9" cy="1004.7" r="4.4"/><circle cx="119.9" cy="997.9" r="4.4"/><circle cx="121.9" cy="993.4" r="4.4"/><circle cx="123.9" cy="989.4" r="4.4"/><circle cx="125.9" cy="985.4" r="4.4"/><circle cx="127.9" cy="982.4" r="4.4"/><circle cx="129.9" cy="980.7" r="4.4"/><circle cx="131.9" cy="976.0" r="4.4"/><circle cx="133.8" cy="977.1" r="4.4"/><circle cx="135.8" cy="972.6" r="4.4"/><circle cx="137.8" cy="968.3" r="4.4"/><circle cx="139.8" cy="965.1" r="4.4"/><circle cx="141.8" cy="959.8" r="4.4"/><circle cx="143.8" cy="953.6" r="4.4"/><circle cx="145.8" cy="947.3" r="4.4"/><circle cx="147.8" cy="942.1" r="4.4"/><circle cx="149.8" cy="937.4" r="4.4"/><circle cx="151.8" cy="933.9" r="4.4"/><circle cx="153.8" cy="928.0" r="4.4"/><circle cx="155.8" cy="921.9" r="4.4"/><circle cx="157.8" cy="917.6" r="4.4"/><circle cx="159.8" cy="913.0" r="4.4"/><circle cx="161.8" cy="912.0" r="4.4"/><circle cx="163.8" cy="917.9" r="4.4"/><circle cx="165.8" cy="922.8" r="4.4"/><circle cx="167.8" cy="927.6" r="4.4"/><circle cx="169.8" cy="933.5" r="4.4"/><circle cx="171.8" cy="943.0" r="4.4"/><circle cx="173.8" cy="951.1" r="4.4"/><circle cx="175.8" cy="963.5" r="4.4"/><circle cx="177.8" cy="973.6" r="4.4"/><circle cx="179.8" cy="981.5" r="4.4"/><circle cx="181.7" cy="992.8" r="4.4"/><circle cx="183.7" cy="1008.6" r="4.4"/><circle cx="185.7" cy="1031.0" r="4.4"/><circle cx="187.7" cy="1043.8" r="4.4"/><circle cx="189.7" cy="1056.4" r="4.4"/><circle cx="191.7" cy="1069.0" r="4.4"/><circle cx="193.7" cy="1076.9" r="4.4"/><circle cx="195.7" cy="1082.2" r="4.4"/><circle cx="197.7" cy="1091.5" r="4.4"/><circle cx="199.7" cy="1098.8" r="4.4"/><circle cx="201.7" cy="1103.6" r="4.4"/><circle cx="203.7" cy="1110.1" r="4.4"/><circle cx="205.7" cy="1112.0" r="4.4"/><circle cx="207.7" cy="1116.2" r="4.4"/><circle cx="209.7" cy="1117.5" r="4.4"/><circle cx="211.7" cy="1121.6" r="4.4"/><circle cx="213.7" cy="1122.0" r="4.4"/><circle cx="215.7" cy="1122.7" r="4.4"/><circle cx="217.7" cy="1122.1" r="4.4"/><circle cx="219.7" cy="1125.1" r="4.4"/><circle cx="221.7" cy="1124.7" r="4.4"/><circle cx="223.7" cy="1124.8" r="4.4"/><circle cx="225.7" cy="1125.0" r="4.4"/><circle cx="227.7" cy="1123.8" r="4.4"/><circle cx="229.6" cy="1122.1" r="4.4"/><circle cx="231.6" cy="1121.0" r="4.4"/><circle cx="233.6" cy="1120.1" r="4.4"/><circle cx="235.6" cy="1121.0" r="4.4"/><circle cx="237.6" cy="1117.9" r="4.4"/><circle cx="239.6" cy="1117.6" r="4.4"/><circle cx="241.6" cy="1116.6" r="4.4"/><circle cx="243.6" cy="1115.5" r="4.4"/><circle cx="245.6" cy="1113.9" r="4.4"/><circle cx="247.6" cy="1110.5" r="4.4"/><circle cx="249.6" cy="1108.2" r="4.4"/><circle cx="251.6" cy="1107.6" r="4.4"/><circle cx="253.6" cy="1106.6" r="4.4"/><circle cx="255.6" cy="1104.2" r="4.4"/><circle cx="257.6" cy="1101.6" r="4.4"/><circle cx="259.6" cy="1098.8" r="4.4"/><circle cx="261.6" cy="1097.2" r="4.4"/><circle cx="263.6" cy="1095.0" r="4.4"/><circle cx="265.6" cy="1094.4" r="4.4"/><circle cx="267.6" cy="1091.8" r="4.4"/><circle cx="269.6" cy="1091.6" r="4.4"/><circle cx="271.6" cy="1090.6" r="4.4"/><circle cx="273.6" cy="1090.4" r="4.4"/><circle cx="275.6" cy="1089.7" r="4.4"/><circle cx="277.5" cy="1091.6" r="4.4"/><circle cx="279.5" cy="1091.2" r="4.4"/><circle cx="281.5" cy="1091.8" r="4.4"/><circle cx="283.5" cy="1089.7" r="4.4"/><circle cx="285.5" cy="1092.0" r="4.4"/><circle cx="287.5" cy="1093.0" r="4.4"/><circle cx="289.5" cy="1095.3" r="4.4"/><circle cx="291.5" cy="1094.6" r="4.4"/><circle cx="293.5" cy="1099.3" r="4.4"/><circle cx="295.5" cy="1101.3" r="4.4"/><circle cx="297.5" cy="1101.7" r="4.4"/><circle cx="299.5" cy="1104.3" r="4.4"/><circle cx="301.5" cy="1106.4" r="4.4"/><circle cx="303.5" cy="1108.6" r="4.4"/><circle cx="305.5" cy="1110.5" r="4.4"/><circle cx="307.5" cy="1112.8" r="4.4"/><circle cx="309.5" cy="1112.1" r="4.4"/><circle cx="311.5" cy="1113.8" r="4.4"/><circle cx="313.5" cy="1114.1" r="4.4"/><circle cx="315.5" cy="1116.1" r="4.4"/><circle cx="317.5" cy="1115.9" r="4.4"/><circle cx="319.5" cy="1117.1" r="4.4"/><circle cx="321.5" cy="1115.7" r="4.4"/><circle cx="323.4" cy="1117.0" r="4.4"/><circle cx="325.4" cy="1117.0" r="4.4"/><circle cx="327.4" cy="1119.4" r="4.4"/><circle cx="329.4" cy="1119.2" r="4.4"/><circle cx="331.4" cy="1118.9" r="4.4"/><circle cx="333.4" cy="1119.2" r="4.4"/><circle cx="335.4" cy="1120.3" r="4.4"/><circle cx="337.4" cy="1119.9" r="4.4"/><circle cx="339.4" cy="1120.4" r="4.4"/><circle cx="341.4" cy="1122.5" r="4.4"/><circle cx="343.4" cy="1124.9" r="4.4"/><circle cx="345.4" cy="1123.4" r="4.4"/><circle cx="347.4" cy="1123.8" r="4.4"/><circle cx="349.4" cy="1123.9" r="4.4"/><circle cx="351.4" cy="1124.4" r="4.4"/><circle cx="353.4" cy="1126.6" r="4.4"/><circle cx="355.4" cy="1127.5" r="4.4"/><circle cx="357.4" cy="1127.5" r="4.4"/><circle cx="359.4" cy="1128.3" r="4.4"/><circle cx="361.4" cy="1128.5" r="4.4"/><circle cx="363.4" cy="1128.8" r="4.4"/><circle cx="365.4" cy="1127.8" r="4.4"/><circle cx="367.4" cy="1128.8" r="4.4"/><circle cx="369.4" cy="1129.3" r="4.4"/><circle cx="371.4" cy="1128.2" r="4.4"/><circle cx="373.3" cy="1127.7" r="4.4"/><circle cx="375.3" cy="1126.5" r="4.4"/><circle cx="377.3" cy="1125.7" r="4.4"/><circle cx="379.3" cy="1125.0" r="4.4"/><circle cx="381.3" cy="1122.0" r="4.4"/><circle cx="383.3" cy="1119.8" r="4.4"/><circle cx="385.3" cy="1117.4" r="4.4"/><circle cx="387.3" cy="1113.7" r="4.4"/><circle cx="389.3" cy="1110.5" r="4.4"/><circle cx="391.3" cy="1103.1" r="4.4"/><circle cx="393.3" cy="1100.7" r="4.4"/><circle cx="395.3" cy="1093.9" r="4.4"/><circle cx="397.3" cy="1087.0" r="4.4"/><circle cx="399.3" cy="1081.8" r="4.4"/><circle cx="401.3" cy="1077.9" r="4.4"/><circle cx="403.3" cy="1071.1" r="4.4"/><circle cx="405.3" cy="1061.2" r="4.4"/><circle cx="407.3" cy="1053.4" r="4.4"/><circle cx="409.3" cy="1044.2" r="4.4"/><circle cx="411.3" cy="1035.1" r="4.4"/><circle cx="413.3" cy="1028.2" r="4.4"/><circle cx="415.3" cy="1022.0" r="4.4"/><circle cx="417.3" cy="1019.2" r="4.4"/><circle cx="419.2" cy="1014.1" r="4.4"/><circle cx="421.2" cy="1014.0" r="4.4"/><circle cx="423.2" cy="1013.6" r="4.4"/><circle cx="425.2" cy="1017.2" r="4.4"/><circle cx="427.2" cy="1022.5" r="4.4"/><circle cx="429.2" cy="1027.7" r="4.4"/><circle cx="431.2" cy="1033.8" r="4.4"/><circle cx="433.2" cy="1044.3" r="4.4"/><circle cx="435.2" cy="1052.0" r="4.4"/><circle cx="437.2" cy="1064.8" r="4.4"/><circle cx="439.2" cy="1075.7" r="4.4"/><circle cx="441.2" cy="1087.9" r="4.4"/><circle cx="443.2" cy="1095.7" r="4.4"/><circle cx="445.2" cy="1104.2" r="4.4"/><circle cx="447.2" cy="1113.7" r="4.4"/><circle cx="449.2" cy="1123.3" r="4.4"/><circle cx="451.2" cy="1133.8" r="4.4"/><circle cx="453.2" cy="1142.1" r="4.4"/><circle cx="455.2" cy="1147.6" r="4.4"/><circle cx="457.2" cy="1153.4" r="4.4"/><circle cx="459.2" cy="1158.8" r="4.4"/><circle cx="461.2" cy="1161.4" r="4.4"/><circle cx="463.2" cy="1164.5" r="4.4"/><circle cx="465.2" cy="1166.8" r="4.4"/><circle cx="467.1" cy="1168.0" r="4.4"/><circle cx="469.1" cy="1171.9" r="4.4"/><circle cx="471.1" cy="1171.7" r="4.4"/><circle cx="473.1" cy="1175.2" r="4.4"/><circle cx="475.1" cy="1175.8" r="4.4"/><circle cx="477.1" cy="1177.7" r="4.4"/><circle cx="479.1" cy="1177.6" r="4.4"/><circle cx="481.1" cy="1177.8" r="4.4"/><circle cx="483.1" cy="1179.4" r="4.4"/><circle cx="485.1" cy="1179.3" r="4.4"/><circle cx="487.1" cy="1180.2" r="4.4"/><circle cx="489.1" cy="1181.0" r="4.4"/><circle cx="491.1" cy="1181.3" r="4.4"/><circle cx="493.1" cy="1181.8" r="4.4"/><circle cx="495.1" cy="1181.7" r="4.4"/><circle cx="497.1" cy="1182.6" r="4.4"/><circle cx="499.1" cy="1181.4" r="4.4"/><circle cx="501.1" cy="1183.3" r="4.4"/><circle cx="503.1" cy="1182.8" r="4.4"/><circle cx="505.1" cy="1184.9" r="4.4"/><circle cx="507.1" cy="1185.3" r="4.4"/><circle cx="509.1" cy="1182.9" r="4.4"/><circle cx="511.1" cy="1184.8" r="4.4"/><circle cx="513.1" cy="1184.8" r="4.4"/><circle cx="515.0" cy="1184.3" r="4.4"/><circle cx="517.0" cy="1185.8" r="4.4"/><circle cx="519.0" cy="1185.2" r="4.4"/><circle cx="521.0" cy="1184.3" r="4.4"/><circle cx="523.0" cy="1185.7" r="4.4"/><circle cx="525.0" cy="1185.9" r="4.4"/><circle cx="527.0" cy="1186.3" r="4.4"/><circle cx="529.0" cy="1185.4" r="4.4"/><circle cx="531.0" cy="1187.0" r="4.4"/><circle cx="533.0" cy="1187.3" r="4.4"/><circle cx="535.0" cy="1186.0" r="4.4"/><circle cx="537.0" cy="1186.6" r="4.4"/><circle cx="539.0" cy="1187.2" r="4.4"/></g>
<path d="M200.0 1128.0L201.0 1128.0L202.0 1127.9L203.0 1127.9L204.0 1127.9L205.0 1127.9L206.0 1127.8L207.0 1127.8L208.0 1127.8L209.0 1127.8L210.0 1127.7L211.0 1127.7L212.0 1127.7L213.0 1127.7L214.0 1127.7L215.0 1127.7L216.0 1127.6L217.0 1127.6L218.0 1127.6L219.0 1127.6L220.0 1127.6L221.0 1127.6L222.0 1127.6L223.0 1127.6L224.0 1127.6L225.0 1127.6L226.0 1127.6L227.0 1127.6L228.0 1127.6L229.0 1127.6L230.0 1127.7L231.0 1127.7L232.0 1127.7L233.0 1127.7L234.0 1127.7L235.0 1127.7L236.0 1127.8L237.0 1127.8L238.0 1127.8L239.0 1127.8L240.0 1127.8L241.0 1127.8L242.0 1127.7L243.0 1127.7L244.0 1127.7L245.0 1127.6L246.0 1127.6L247.0 1127.5L248.0 1127.4L249.0 1127.3L250.0 1127.3L251.0 1127.2L252.0 1127.1L253.0 1127.0L254.0 1126.9L255.0 1126.8L256.0 1126.7L257.0 1126.6L258.0 1126.5L259.0 1126.4L260.0 1126.3L261.0 1126.3L262.0 1126.2L263.0 1126.1L264.0 1126.0L265.0 1126.0L266.0 1125.9L267.0 1125.8L268.0 1125.8L269.0 1125.7L270.0 1125.6L271.0 1125.6L272.0 1125.5L273.0 1125.4L274.0 1125.4L275.0 1125.3L276.0 1125.2L277.0 1125.1L278.0 1125.1L279.0 1125.0L280.0 1124.9L281.0 1124.8L282.0 1124.7L283.0 1124.6L284.0 1124.5L285.0 1124.4L286.0 1124.2L287.0 1124.1L288.0 1123.9L289.0 1123.8L290.0 1123.6L291.0 1123.5L292.0 1123.3L293.0 1123.1L294.0 1122.9L295.0 1122.8L296.0 1122.6L297.0 1122.4L298.0 1122.2L299.0 1122.1L300.0 1121.9L301.0 1121.7L302.0 1121.5L303.0 1121.3L304.0 1121.2L305.0 1121.0L306.0 1120.8L307.0 1120.6L308.0 1120.4L309.0 1120.2L310.0 1120.0L311.0 1119.9L312.0 1119.7L313.0 1119.6L314.0 1119.4L315.0 1119.3L316.0 1119.2L317.0 1119.1L318.0 1119.0L319.0 1119.0L320.0 1118.9L321.0 1118.9L322.0 1118.8L323.0 1118.8L324.0 1118.8L325.0 1118.8L326.0 1118.8L327.0 1118.8L328.0 1118.9L329.0 1119.0L330.0 1119.0L331.0 1119.2L332.0 1119.3L333.0 1119.4L334.0 1119.5L335.0 1119.7L336.0 1119.8L337.0 1120.0L338.0 1120.2L339.0 1120.4L340.0 1120.6L341.0 1120.9L342.0 1121.1L343.0 1121.5L344.0 1121.8L345.0 1122.2L346.0 1122.6L347.0 1123.0L348.0 1123.4L349.0 1123.9L350.0 1124.3L351.0 1124.7L352.0 1125.2L353.0 1125.6L354.0 1126.0L355.0 1126.4L356.0 1126.8L357.0 1127.2L358.0 1127.6L359.0 1128.0L360.0 1128.4L361.0 1128.8L362.0 1129.1L363.0 1129.5L364.0 1129.9L365.0 1130.3L366.0 1130.7L367.0 1131.1L368.0 1131.5L369.0 1131.9L370.0 1132.3L371.0 1132.7L372.0 1133.1L373.0 1133.6L374.0 1134.0L375.0 1134.4L376.0 1134.9L377.0 1135.3L378.0 1135.8L379.0 1136.3L380.0 1136.7L381.0 1137.2L382.0 1137.7L383.0 1138.2L384.0 1138.6L385.0 1139.1L386.0 1139.6L387.0 1140.1L388.0 1140.7L389.0 1141.2L390.0 1141.7L391.0 1142.2L392.0 1142.7L393.0 1143.3L394.0 1143.8L395.0 1144.4L396.0 1144.9L397.0 1145.5L398.0 1146.0L399.0 1146.6L400.0 1147.1L401.0 1147.7L402.0 1148.3L403.0 1148.9L404.0 1149.5L405.0 1150.2L406.0 1150.9L407.0 1151.7L408.0 1152.6L409.0 1153.5L410.0 1154.6L411.0 1155.7L412.0 1156.8L413.0 1157.9L414.0 1159.1L415.0 1160.1L416.0 1161.2L417.0 1162.2L418.0 1163.1L419.0 1164.0L420.0 1164.8L421.0 1165.6L422.0 1166.3L423.0 1166.9L424.0 1167.4" fill="none" stroke="#2424b4" stroke-width="1.6"/>
<path d="M424.9 1169.2L425.9 1169.5L426.9 1170.0L427.9 1170.5L428.9 1171.1L429.9 1171.7L430.9 1172.2L431.9 1172.8L432.9 1173.4L433.9 1173.9L434.9 1174.4L435.9 1174.8L436.9 1175.2L437.9 1175.6L438.9 1175.8L439.9 1176.0L440.9 1176.1L441.9 1176.2L442.9 1176.2L443.9 1176.3L444.9 1176.2L445.9 1176.2L446.9 1176.2L447.9 1176.1L448.9 1176.0L449.9 1175.9L450.9 1175.8L451.9 1175.6L452.9 1175.5L453.9 1175.3L454.9 1175.1L455.9 1175.0L456.9 1174.8L457.9 1174.7L458.9 1174.6L459.9 1174.5L460.9 1174.4L461.9 1174.4L462.9 1174.3L463.9 1174.3L464.9 1174.4L465.9 1174.5L466.9 1174.6L467.9 1174.8L468.9 1175.1L469.9 1175.4L470.9 1175.7L471.9 1176.1L472.9 1176.5L473.9 1176.9L474.9 1177.4L475.9 1177.7" fill="none" stroke="#8a2be2" stroke-width="1.6"/>
<path d="M60.0 1102.6L61.0 1102.3L62.0 1101.9L63.0 1101.5L64.0 1101.2L65.0 1100.9L66.0 1100.6L67.0 1100.2L68.0 1099.8L69.0 1099.4L70.0 1098.9L71.0 1098.4L72.0 1097.9L73.0 1097.3L74.0 1096.7L75.0 1096.0L76.0 1095.2L77.0 1094.5L78.0 1093.6L79.0 1092.7L80.0 1091.7L81.0 1090.7L82.0 1089.5L83.0 1088.3L84.0 1087.1L85.0 1085.7L86.0 1084.3L87.0 1082.8L88.0 1081.2L89.0 1079.5L90.0 1077.7L91.0 1075.8L92.0 1073.8L93.0 1071.8L94.0 1069.6L95.0 1067.4L96.0 1065.0L97.0 1062.6L98.0 1060.1L99.0 1057.5L100.0 1054.9L101.0 1052.2L102.0 1049.4L103.0 1046.6L104.0 1043.7L105.0 1040.8L106.0 1037.9L107.0 1035.0L108.0 1032.1L109.0 1029.1L110.0 1026.3L111.0 1023.4L112.0 1020.6L113.0 1017.9L114.0 1015.2L115.0 1012.7L116.0 1010.3L117.0 1008.0L118.0 1005.8L119.0 1003.9L120.0 1002.1L121.0 1000.6L122.0 999.2L123.0 998.1L124.0 997.3L125.0 996.7L126.0 996.4L127.0 996.3L128.0 996.6L129.0 997.1L130.0 997.8L131.0 998.6L132.0 999.7L133.0 1000.9L134.0 1002.2L135.0 1003.8L136.0 1005.5L137.0 1007.4L138.0 1009.4L139.0 1011.6L140.0 1014.0L141.0 1016.5L142.0 1019.1L143.0 1021.9L144.0 1024.8L145.0 1027.8L146.0 1030.8L147.0 1034.0L148.0 1037.2L149.0 1040.5L150.0 1043.8L151.0 1047.1L152.0 1050.4L153.0 1053.8L154.0 1057.1L155.0 1060.4L156.0 1063.6L157.0 1066.8L158.0 1070.0L159.0 1073.1L160.0 1076.1L161.0 1079.1L162.0 1082.0L163.0 1084.7L164.0 1087.4L165.0 1090.0L166.0 1092.5L167.0 1094.9L168.0 1097.2L169.0 1099.4L170.0 1101.5L171.0 1103.5L172.0 1105.4L173.0 1107.2L174.0 1108.9L175.0 1110.5L176.0 1112.0L177.0 1113.4L178.0 1114.8L179.0 1116.0L180.0 1117.1L181.0 1118.1L182.0 1119.1L183.0 1120.0L184.0 1120.8L185.0 1121.6L186.0 1122.3L187.0 1122.9L188.0 1123.5L189.0 1124.0L190.0 1124.4L191.0 1124.9L192.0 1125.2L193.0 1125.6L194.0 1126.0L195.0 1126.4L196.0 1126.8L197.0 1127.1L198.0 1127.3L199.0 1127.4L200.0 1127.6L201.0 1127.7" fill="none" stroke="#e030e0" stroke-width="1.6"/>
<path d="M96.0 1103.9L97.0 1103.9L98.0 1103.9L99.0 1103.8L100.0 1103.7L101.0 1103.6L102.0 1103.5L103.0 1103.2L104.0 1103.0L105.0 1102.7L106.0 1102.6L107.0 1102.4L108.0 1102.2L109.0 1102.0L110.0 1101.7L111.0 1101.4L112.0 1101.1L113.0 1100.7L114.0 1100.3L115.0 1099.9L116.0 1099.4L117.0 1098.9L118.0 1098.4L119.0 1097.7L120.0 1097.1L121.0 1096.4L122.0 1095.6L123.0 1094.8L124.0 1093.9L125.0 1092.9L126.0 1091.8L127.0 1090.5L128.0 1089.2L129.0 1087.7L130.0 1086.0L131.0 1084.2L132.0 1082.2L133.0 1080.0L134.0 1077.6L135.0 1075.1L136.0 1072.3L137.0 1069.4L138.0 1066.2L139.0 1062.9L140.0 1059.4L141.0 1055.7L142.0 1051.7L143.0 1047.6L144.0 1043.3L145.0 1038.8L146.0 1034.2L147.0 1029.3L148.0 1024.3L149.0 1019.1L150.0 1013.8L151.0 1008.3L152.0 1002.7L153.0 997.1L154.0 991.4L155.0 985.6L156.0 979.9L157.0 974.3L158.0 968.8L159.0 963.5L160.0 958.4L161.0 953.7L162.0 949.5L163.0 945.9L164.0 943.2L165.0 942.3L166.0 942.7L167.0 943.5L168.0 944.6L169.0 946.1L170.0 948.1L171.0 950.4L172.0 953.3L173.0 956.5L174.0 960.2L175.0 964.3L176.0 968.9L177.0 973.8L178.0 979.0L179.0 984.6L180.0 990.4L181.0 996.5L182.0 1002.8L183.0 1009.2L184.0 1015.8L185.0 1022.3L186.0 1028.9L187.0 1035.5L188.0 1041.9L189.0 1048.3L190.0 1054.5L191.0 1060.5L192.0 1066.3L193.0 1071.8L194.0 1077.0L195.0 1082.0L196.0 1086.7L197.0 1091.0L198.0 1095.1L199.0 1098.8L200.0 1102.3L201.0 1105.4L202.0 1108.3L203.0 1110.9L204.0 1113.2L205.0 1115.3L206.0 1117.1L207.0 1118.7L208.0 1120.2L209.0 1121.4L210.0 1122.5L211.0 1123.4L212.0 1124.2L213.0 1124.9L214.0 1125.5L215.0 1126.0L216.0 1126.7L217.0 1127.2L218.0 1127.6L219.0 1127.9L220.0 1128.0" fill="none" stroke="#f39a2c" stroke-width="1.6"/>
<path d="M226.0 1128.2L227.0 1128.1L228.0 1128.0L229.0 1127.8L230.0 1127.6L231.0 1127.2L232.0 1126.6L233.0 1126.3L234.0 1126.0L235.0 1125.5L236.0 1125.1L237.0 1124.6L238.0 1124.0L239.0 1123.4L240.0 1122.7L241.0 1122.0L242.0 1121.2L243.0 1120.4L244.0 1119.5L245.0 1118.6L246.0 1117.6L247.0 1116.6L248.0 1115.6L249.0 1114.5L250.0 1113.4L251.0 1112.3L252.0 1111.1L253.0 1110.0L254.0 1108.8L255.0 1107.7L256.0 1106.6L257.0 1105.5L258.0 1104.4L259.0 1103.4L260.0 1102.4L261.0 1101.5L262.0 1100.6L263.0 1099.8L264.0 1099.1L265.0 1098.4L266.0 1097.8L267.0 1097.3L268.0 1096.9L269.0 1096.6L270.0 1096.3L271.0 1096.2L272.0 1096.0L273.0 1096.0L274.0 1096.0L275.0 1096.1L276.0 1096.2L277.0 1096.4L278.0 1096.5L279.0 1096.9L280.0 1097.4L281.0 1098.1L282.0 1098.9L283.0 1099.8L284.0 1100.9L285.0 1102.0L286.0 1103.2L287.0 1104.4L288.0 1105.7L289.0 1107.1L290.0 1108.5L291.0 1109.9L292.0 1111.3L293.0 1112.7L294.0 1114.2L295.0 1115.6L296.0 1117.0L297.0 1118.4L298.0 1119.8L299.0 1121.1L300.0 1122.4L301.0 1123.7L302.0 1124.9L303.0 1126.1L304.0 1127.2L305.0 1128.3L306.0 1129.4L307.0 1130.4L308.0 1131.3L309.0 1132.2L310.0 1133.1L311.0 1133.9L312.0 1134.7L313.0 1135.4L314.0 1136.1L315.0 1136.7L316.0 1137.3L317.0 1137.8L318.0 1138.4L319.0 1138.8L320.0 1139.3L321.0 1139.7L322.0 1140.1L323.0 1140.5L324.0 1141.0L325.0 1141.4L326.0 1141.8L327.0 1142.1L328.0 1142.4L329.0 1142.6L330.0 1142.8L331.0 1143.0" fill="none" stroke="#229322" stroke-width="1.6"/>
<path d="M351.0 1144.5L352.0 1144.6L353.0 1144.6L354.0 1144.6L355.0 1144.6L356.0 1144.5L357.0 1144.5L358.0 1144.4L359.0 1144.3L360.0 1144.1L361.0 1143.9L362.0 1143.7L363.0 1143.5L364.0 1143.4L365.0 1143.2L366.0 1143.0L367.0 1142.8L368.0 1142.5L369.0 1142.2L370.0 1141.9L371.0 1141.5L372.0 1141.0L373.0 1140.5L374.0 1139.9L375.0 1139.3L376.0 1138.6L377.0 1137.7L378.0 1136.8L379.0 1135.9L380.0 1134.8L381.0 1133.5L382.0 1132.2L383.0 1130.8L384.0 1129.2L385.0 1127.5L386.0 1125.6L387.0 1123.6L388.0 1121.4L389.0 1119.1L390.0 1116.6L391.0 1114.0L392.0 1111.1L393.0 1108.2L394.0 1105.0L395.0 1101.7L396.0 1098.2L397.0 1094.6L398.0 1090.8L399.0 1086.9L400.0 1082.9L401.0 1078.8L402.0 1074.5L403.0 1070.2L404.0 1065.9L405.0 1061.5L406.0 1057.1L407.0 1052.8L408.0 1048.5L409.0 1044.3L410.0 1040.3L411.0 1036.4L412.0 1032.7L413.0 1029.2L414.0 1026.0L415.0 1023.1L416.0 1020.5L417.0 1018.3L418.0 1016.6L419.0 1015.3L420.0 1014.6L421.0 1014.6L422.0 1015.3L423.0 1016.4L424.0 1017.8L425.0 1019.6L426.0 1021.8L427.0 1024.3L428.0 1027.3L429.0 1030.6L430.0 1034.3L431.0 1038.4L432.0 1042.7L433.0 1047.3L434.0 1052.2L435.0 1057.3L436.0 1062.6L437.0 1068.0L438.0 1073.5L439.0 1079.2L440.0 1084.9L441.0 1090.7L442.0 1096.4L443.0 1102.1L444.0 1107.8L445.0 1113.3L446.0 1118.7L447.0 1123.9L448.0 1129.0L449.0 1133.8L450.0 1138.4L451.0 1142.7L452.0 1146.8L453.0 1150.6L454.0 1154.2L455.0 1157.5L456.0 1160.5L457.0 1163.3L458.0 1165.8L459.0 1168.1L460.0 1170.2L461.0 1172.0L462.0 1173.7L463.0 1175.1L464.0 1176.4L465.0 1177.6L466.0 1178.6L467.0 1179.5L468.0 1180.2L469.0 1180.9L470.0 1181.5L471.0 1182.0L472.0 1182.4L473.0 1182.8L474.0 1183.3L475.0 1183.7L476.0 1184.1L477.0 1184.3L478.0 1184.6L479.0 1184.8L480.0 1184.9L481.0 1185.1L482.0 1185.2L483.0 1185.4L484.0 1185.5L485.0 1185.6L486.0 1185.7" fill="none" stroke="#8a2be2" stroke-width="1.6"/>
<path d="M60.0 1103.6L61.0 1103.6L62.0 1103.6L63.0 1103.6L64.0 1103.5L65.0 1103.5L66.0 1103.5L67.0 1103.5L68.0 1103.4L69.0 1103.4L70.0 1103.4L71.0 1103.4L72.0 1103.4L73.0 1103.3L74.0 1103.3L75.0 1103.3L76.0 1103.3L77.0 1103.3L78.0 1103.3L79.0 1103.4L80.0 1103.4L81.0 1103.4L82.0 1103.4L83.0 1103.5L84.0 1103.5L85.0 1103.5L86.0 1103.6L87.0 1103.6L88.0 1103.7L89.0 1103.7L90.0 1103.8L91.0 1103.9L92.0 1103.9L93.0 1104.0L94.0 1104.0L95.0 1104.1L96.0 1104.2L97.0 1104.2L98.0 1104.3L99.0 1104.4L100.0 1104.4L101.0 1104.5L102.0 1104.6L103.0 1104.7L104.0 1104.7L105.0 1104.8L106.0 1104.9L107.0 1105.0L108.0 1105.1L109.0 1105.2L110.0 1105.3L111.0 1105.4L112.0 1105.5L113.0 1105.7L114.0 1105.8L115.0 1106.0L116.0 1106.1L117.0 1106.3L118.0 1106.5L119.0 1106.7L120.0 1107.0L121.0 1107.3L122.0 1107.6L123.0 1108.0L124.0 1108.3L125.0 1108.7L126.0 1109.1L127.0 1109.5L128.0 1109.8L129.0 1110.2L130.0 1110.6L131.0 1110.9L132.0 1111.2L133.0 1111.5L134.0 1111.8L135.0 1112.0L136.0 1112.3L137.0 1112.5L138.0 1112.8L139.0 1113.0L140.0 1113.3L141.0 1113.6L142.0 1113.8L143.0 1114.1L144.0 1114.4L145.0 1114.8L146.0 1115.1L147.0 1115.4L148.0 1115.7L149.0 1116.1L150.0 1116.5L151.0 1116.8L152.0 1117.2L153.0 1117.5L154.0 1117.9L155.0 1118.3L156.0 1118.6L157.0 1119.0L158.0 1119.3L159.0 1119.7L160.0 1120.0L161.0 1120.4L162.0 1120.7L163.0 1121.1L164.0 1121.4L165.0 1121.8L166.0 1122.1L167.0 1122.4L168.0 1122.8L169.0 1123.1L170.0 1123.4L171.0 1123.7L172.0 1124.0L173.0 1124.3L174.0 1124.6L175.0 1124.9L176.0 1125.1L177.0 1125.4L178.0 1125.6L179.0 1125.8L180.0 1126.0L181.0 1126.2L182.0 1126.4L183.0 1126.6L184.0 1126.7L185.0 1126.9L186.0 1127.0L187.0 1127.1L188.0 1127.2L189.0 1127.3L190.0 1127.4L191.0 1127.5L192.0 1127.6L193.0 1127.6L194.0 1127.7L195.0 1127.7L196.0 1127.8L197.0 1127.8L198.0 1127.8L199.0 1127.9L200.0 1127.9L201.0 1127.9L202.0 1127.9L203.0 1128.0L204.0 1128.0L205.0 1128.0L206.0 1128.0L207.0 1128.0L208.0 1128.1L209.0 1128.1L210.0 1128.1L211.0 1128.1L212.0 1128.1L213.0 1128.2L214.0 1128.2L215.0 1128.2L216.0 1128.2L217.0 1128.2L218.0 1128.3L219.0 1128.3L220.0 1128.3L221.0 1128.3L222.0 1128.3L223.0 1128.4L224.0 1128.4L225.0 1128.4L226.0 1128.4L227.0 1128.5L228.0 1128.5L229.0 1128.5L230.0 1128.5L231.0 1128.6L232.0 1128.6L233.0 1128.6L234.0 1128.7L235.0 1128.7L236.0 1128.8L237.0 1128.8L238.0 1128.8L239.0 1128.9L240.0 1129.0L241.0 1129.0L242.0 1129.1L243.0 1129.2L244.0 1129.3L245.0 1129.4L246.0 1129.6L247.0 1129.7L248.0 1129.8L249.0 1130.0L250.0 1130.1L251.0 1130.3L252.0 1130.4L253.0 1130.6L254.0 1130.8L255.0 1131.0L256.0 1131.1L257.0 1131.3L258.0 1131.5L259.0 1131.7L260.0 1131.8L261.0 1132.0L262.0 1132.2L263.0 1132.4L264.0 1132.5L265.0 1132.7L266.0 1132.9L267.0 1133.1L268.0 1133.2L269.0 1133.4L270.0 1133.6L271.0 1133.8L272.0 1134.0L273.0 1134.1L274.0 1134.3L275.0 1134.5L276.0 1134.7L277.0 1134.9L278.0 1135.0L279.0 1135.2L280.0 1135.4L281.0 1135.6L282.0 1135.8L283.0 1135.9L284.0 1136.1L285.0 1136.3L286.0 1136.5L287.0 1136.7L288.0 1136.8L289.0 1137.0L290.0 1137.2L291.0 1137.4L292.0 1137.5L293.0 1137.7L294.0 1137.9L295.0 1138.1L296.0 1138.2L297.0 1138.4L298.0 1138.6L299.0 1138.7L300.0 1138.9L301.0 1139.1L302.0 1139.2L303.0 1139.4L304.0 1139.6L305.0 1139.7L306.0 1139.9L307.0 1140.1L308.0 1140.2L309.0 1140.4L310.0 1140.5L311.0 1140.7L312.0 1140.8L313.0 1141.0L314.0 1141.2L315.0 1141.3L316.0 1141.4L317.0 1141.6L318.0 1141.7L319.0 1141.9L320.0 1142.0L321.0 1142.1L322.0 1142.2L323.0 1142.4L324.0 1142.5L325.0 1142.6L326.0 1142.7L327.0 1142.8L328.0 1142.9L329.0 1143.0L330.0 1143.1L331.0 1143.2L332.0 1143.3L333.0 1143.4L334.0 1143.5L335.0 1143.6L336.0 1143.7L337.0 1143.8L338.0 1143.9L339.0 1143.9L340.0 1144.0L341.0 1144.1L342.0 1144.2L343.0 1144.3L344.0 1144.4L345.0 1144.4L346.0 1144.5L347.0 1144.6L348.0 1144.6L349.0 1144.7L350.0 1144.8L351.0 1144.8L352.0 1144.9L353.0 1145.0L354.0 1145.0L355.0 1145.1L356.0 1145.2L357.0 1145.2L358.0 1145.3L359.0 1145.4L360.0 1145.4L361.0 1145.5L362.0 1145.6L363.0 1145.7L364.0 1145.8L365.0 1145.9L366.0 1146.0L367.0 1146.1L368.0 1146.2L369.0 1146.3L370.0 1146.4L371.0 1146.5L372.0 1146.7L373.0 1146.8L374.0 1146.9L375.0 1147.1L376.0 1147.2L377.0 1147.4L378.0 1147.5L379.0 1147.7L380.0 1147.8L381.0 1148.0L382.0 1148.1L383.0 1148.3L384.0 1148.5L385.0 1148.7L386.0 1148.8L387.0 1149.0L388.0 1149.2L389.0 1149.4L390.0 1149.6L391.0 1149.8L392.0 1150.0L393.0 1150.2L394.0 1150.5L395.0 1150.7L396.0 1151.0L397.0 1151.2L398.0 1151.5L399.0 1151.8L400.0 1152.1L401.0 1152.5L402.0 1152.8L403.0 1153.2L404.0 1153.7L405.0 1154.1L406.0 1154.6L407.0 1155.1L408.0 1155.7L409.0 1156.3L410.0 1156.9L411.0 1157.6L412.0 1158.3L413.0 1159.0L414.0 1159.8L415.0 1160.6L416.0 1161.4L417.0 1162.1L418.0 1162.9L419.0 1163.7L420.0 1164.6L421.0 1165.4L422.0 1166.3L423.0 1167.1L424.0 1168.0L425.0 1169.0L426.0 1169.9L427.0 1170.9L428.0 1171.8L429.0 1172.8L430.0 1173.7L431.0 1174.6L432.0 1175.4L433.0 1176.1L434.0 1176.8L435.0 1177.3L436.0 1177.9L437.0 1178.3L438.0 1178.7L439.0 1179.0L440.0 1179.4L441.0 1179.6L442.0 1179.9L443.0 1180.2L444.0 1180.4L445.0 1180.6L446.0 1180.8L447.0 1181.0L448.0 1181.2L449.0 1181.4L450.0 1181.6L451.0 1181.7L452.0 1181.9L453.0 1182.1L454.0 1182.3L455.0 1182.5L456.0 1182.6L457.0 1182.8L458.0 1183.0L459.0 1183.1L460.0 1183.3L461.0 1183.4L462.0 1183.6L463.0 1183.7L464.0 1183.8L465.0 1184.0L466.0 1184.1L467.0 1184.2L468.0 1184.4L469.0 1184.5L470.0 1184.6L471.0 1184.7L472.0 1184.8L473.0 1184.9L474.0 1185.0L475.0 1185.1L476.0 1185.2L477.0 1185.2L478.0 1185.3L479.0 1185.4L480.0 1185.5L481.0 1185.6L482.0 1185.7L483.0 1185.7L484.0 1185.8L485.0 1185.9L486.0 1186.0L487.0 1186.1L488.0 1186.1L489.0 1186.2L490.0 1186.3L491.0 1186.4L492.0 1186.4L493.0 1186.5L494.0 1186.6L495.0 1186.7L496.0 1186.7L497.0 1186.8L498.0 1186.9L499.0 1186.9L500.0 1187.0L501.0 1187.1L502.0 1187.1L503.0 1187.2L504.0 1187.2L505.0 1187.3L506.0 1187.3L507.0 1187.4L508.0 1187.5L509.0 1187.5L510.0 1187.6L511.0 1187.6L512.0 1187.7L513.0 1187.7L514.0 1187.8L515.0 1187.8L516.0 1187.9L517.0 1187.9L518.0 1188.0L519.0 1188.0L520.0 1188.1L521.0 1188.1L522.0 1188.2L523.0 1188.2L524.0 1188.2L525.0 1188.3L526.0 1188.3L527.0 1188.4L528.0 1188.4L529.0 1188.5L530.0 1188.5L531.0 1188.5L532.0 1188.6L533.0 1188.6L534.0 1188.6L535.0 1188.7L536.0 1188.7L537.0 1188.7L538.0 1188.7L539.0 1188.8" fill="none" stroke="#8f1a8f" stroke-width="1.6"/>
<path d="M60.0 1102.1L61.0 1101.8L62.0 1101.4L63.0 1101.0L64.0 1100.6L65.0 1100.1L66.0 1099.7L67.0 1099.2L68.0 1098.8L69.0 1098.3L70.0 1097.8L71.0 1097.3L72.0 1096.7L73.0 1096.1L74.0 1095.5L75.0 1094.9L76.0 1094.1L77.0 1093.3L78.0 1092.4L79.0 1091.4L80.0 1090.3L81.0 1089.2L82.0 1088.1L83.0 1086.9L84.0 1085.7L85.0 1084.5L86.0 1083.3L87.0 1082.0L88.0 1080.6L89.0 1079.1L90.0 1077.5L91.0 1075.8L92.0 1074.1L93.0 1072.1L94.0 1069.9L95.0 1067.4L96.0 1064.1L97.0 1060.7L98.0 1057.5L99.0 1054.3L100.0 1051.3L101.0 1048.8L102.0 1046.8L103.0 1044.9L104.0 1042.8L105.0 1040.4L106.0 1037.6L107.0 1034.6L108.0 1031.5L109.0 1028.5L110.0 1025.5L111.0 1022.4L112.0 1019.4L113.0 1016.5L114.0 1013.7L115.0 1011.2L116.0 1008.6L117.0 1006.1L118.0 1003.5L119.0 1000.9L120.0 998.3L121.0 995.7L122.0 993.3L123.0 990.8L124.0 988.4L125.0 986.4L126.0 984.7L127.0 983.4L128.0 982.2L129.0 981.1L130.0 980.0L131.0 979.0L132.0 978.1L133.0 977.1L134.0 976.0L135.0 974.7L136.0 973.1L137.0 971.3L138.0 969.3L139.0 967.0L140.0 964.4L141.0 961.5L142.0 958.8L143.0 956.2L144.0 953.5L145.0 950.7L146.0 947.6L147.0 944.4L148.0 941.6L149.0 939.2L150.0 937.0L151.0 934.8L152.0 932.3L153.0 929.6L154.0 926.8L155.0 924.1L156.0 921.2L157.0 918.5L158.0 916.3L159.0 914.5L160.0 912.9L161.0 912.2L162.0 913.0L163.0 915.3L164.0 918.0L165.0 920.3L166.0 922.9L167.0 925.6L168.0 928.5L169.0 931.6L170.0 935.0L171.0 939.0L172.0 944.1L173.0 949.4L174.0 954.2L175.0 959.1L176.0 964.2L177.0 969.4L178.0 974.4L179.0 979.2L180.0 984.0L181.0 988.7L182.0 994.4L183.0 1001.8L184.0 1012.3L185.0 1023.2L186.0 1032.8L187.0 1040.9L188.0 1046.9L189.0 1052.5L190.0 1058.9L191.0 1065.0L192.0 1069.6L193.0 1073.4L194.0 1077.0L195.0 1080.9L196.0 1085.2L197.0 1089.3L198.0 1092.9L199.0 1096.3L200.0 1099.4L201.0 1102.2L202.0 1104.8L203.0 1107.2L204.0 1109.5L205.0 1111.6L206.0 1113.5L207.0 1115.1L208.0 1116.3L209.0 1117.6L210.0 1118.7L211.0 1119.8L212.0 1120.7L213.0 1121.6L214.0 1122.3L215.0 1122.8L216.0 1123.1L217.0 1123.3L218.0 1123.5L219.0 1123.7L220.0 1123.8L221.0 1124.0L222.0 1124.1L223.0 1124.2L224.0 1124.2L225.0 1124.2L226.0 1124.0L227.0 1123.8L228.0 1123.4L229.0 1123.0L230.0 1122.5L231.0 1122.0L232.0 1121.5L233.0 1121.0L234.0 1120.6L235.0 1120.2L236.0 1119.7L237.0 1119.3L238.0 1118.9L239.0 1118.4L240.0 1117.8L241.0 1117.3L242.0 1116.6L243.0 1115.8L244.0 1114.9L245.0 1114.0L246.0 1113.0L247.0 1112.0L248.0 1111.1L249.0 1110.1L250.0 1109.2L251.0 1108.2L252.0 1107.2L253.0 1106.3L254.0 1105.3L255.0 1104.2L256.0 1103.2L257.0 1102.1L258.0 1101.0L259.0 1099.8L260.0 1098.6L261.0 1097.5L262.0 1096.5L263.0 1095.7L264.0 1094.9L265.0 1094.2L266.0 1093.5L267.0 1092.8L268.0 1092.2L269.0 1091.7L270.0 1091.3L271.0 1090.9L272.0 1090.5L273.0 1090.2L274.0 1089.9L275.0 1089.7L276.0 1089.5L277.0 1089.5L278.0 1089.6L279.0 1089.8L280.0 1090.1L281.0 1090.4L282.0 1090.8L283.0 1091.2L284.0 1091.6L285.0 1092.0L286.0 1092.6L287.0 1093.2L288.0 1093.8L289.0 1094.5L290.0 1095.2L291.0 1096.0L292.0 1096.9L293.0 1097.9L294.0 1098.9L295.0 1099.9L296.0 1101.0L297.0 1102.1L298.0 1103.3L299.0 1104.5L300.0 1105.6L301.0 1106.6L302.0 1107.4L303.0 1108.2L304.0 1108.9L305.0 1109.6L306.0 1110.3L307.0 1110.9L308.0 1111.5L309.0 1112.0L310.0 1112.5L311.0 1113.0L312.0 1113.4L313.0 1113.8L314.0 1114.2L315.0 1114.5L316.0 1114.9L317.0 1115.2L318.0 1115.5L319.0 1115.8L320.0 1116.1L321.0 1116.4L322.0 1116.7L323.0 1117.0L324.0 1117.3L325.0 1117.6L326.0 1117.8L327.0 1118.1L328.0 1118.3L329.0 1118.6L330.0 1118.8L331.0 1119.0L332.0 1119.2L333.0 1119.4L334.0 1119.6L335.0 1119.8L336.0 1120.1L337.0 1120.3L338.0 1120.6L339.0 1121.0L340.0 1121.4L341.0 1121.9L342.0 1122.4L343.0 1122.8L344.0 1123.1L345.0 1123.5L346.0 1123.8L347.0 1124.1L348.0 1124.4L349.0 1124.8L350.0 1125.1L351.0 1125.4L352.0 1125.7L353.0 1126.0L354.0 1126.4L355.0 1126.7L356.0 1127.1L357.0 1127.4L358.0 1127.7L359.0 1127.9L360.0 1128.1L361.0 1128.3L362.0 1128.5L363.0 1128.6L364.0 1128.8L365.0 1128.9L366.0 1129.0L367.0 1129.1L368.0 1129.2L369.0 1129.2L370.0 1129.1L371.0 1128.9L372.0 1128.6L373.0 1128.2L374.0 1127.8L375.0 1127.3L376.0 1126.8L377.0 1126.2L378.0 1125.4L379.0 1124.6L380.0 1123.7L381.0 1122.7L382.0 1121.6L383.0 1120.3L384.0 1118.9L385.0 1117.2L386.0 1115.5L387.0 1113.8L388.0 1111.9L389.0 1109.8L390.0 1107.7L391.0 1105.5L392.0 1103.2L393.0 1100.8L394.0 1098.2L395.0 1095.3L396.0 1091.8L397.0 1088.0L398.0 1084.5L399.0 1081.7L400.0 1079.7L401.0 1077.7L402.0 1075.2L403.0 1071.5L404.0 1066.9L405.0 1062.3L406.0 1057.7L407.0 1053.3L408.0 1049.2L409.0 1045.5L410.0 1041.3L411.0 1036.5L412.0 1031.9L413.0 1028.4L414.0 1025.6L415.0 1023.0L416.0 1020.7L417.0 1018.2L418.0 1015.4L419.0 1013.6L420.0 1012.6L421.0 1012.2L422.0 1012.6L423.0 1013.4L424.0 1014.7L425.0 1016.9L426.0 1019.5L427.0 1021.8L428.0 1024.1L429.0 1026.5L430.0 1029.4L431.0 1033.2L432.0 1038.2L433.0 1043.1L434.0 1047.1L435.0 1051.0L436.0 1056.1L437.0 1062.2L438.0 1068.4L439.0 1075.0L440.0 1080.8L441.0 1086.1L442.0 1090.9L443.0 1095.3L444.0 1099.6L445.0 1104.1L446.0 1108.6L447.0 1113.3L448.0 1118.3L449.0 1123.3L450.0 1128.2L451.0 1132.9L452.0 1137.1L453.0 1140.7L454.0 1143.9L455.0 1146.9L456.0 1149.7L457.0 1152.4L458.0 1155.0L459.0 1157.2L460.0 1159.1L461.0 1160.9L462.0 1162.6L463.0 1164.1L464.0 1165.5L465.0 1166.8L466.0 1168.0L467.0 1169.1L468.0 1170.2L469.0 1171.2L470.0 1172.1L471.0 1173.0L472.0 1173.8L473.0 1174.6L474.0 1175.2L475.0 1175.8L476.0 1176.3L477.0 1176.8L478.0 1177.2L479.0 1177.6L480.0 1178.0L481.0 1178.4L482.0 1178.7L483.0 1179.1L484.0 1179.4L485.0 1179.7L486.0 1180.0L487.0 1180.3L488.0 1180.6L489.0 1180.9L490.0 1181.2L491.0 1181.4L492.0 1181.7L493.0 1181.9L494.0 1182.2L495.0 1182.4L496.0 1182.6L497.0 1182.8L498.0 1183.0L499.0 1183.1L500.0 1183.3L501.0 1183.5L502.0 1183.6L503.0 1183.7L504.0 1183.9L505.0 1184.0L506.0 1184.1L507.0 1184.3L508.0 1184.4L509.0 1184.5L510.0 1184.6L511.0 1184.7L512.0 1184.8L513.0 1184.9L514.0 1185.0L515.0 1185.1L516.0 1185.3L517.0 1185.4L518.0 1185.4L519.0 1185.5L520.0 1185.6L521.0 1185.7L522.0 1185.8L523.0 1185.9L524.0 1186.0L525.0 1186.1L526.0 1186.1L527.0 1186.2L528.0 1186.3L529.0 1186.4L530.0 1186.5L531.0 1186.6L532.0 1186.6L533.0 1186.7L534.0 1186.8L535.0 1186.9L536.0 1187.0L537.0 1187.1L538.0 1187.2L539.0 1187.3" fill="none" stroke="#e3151b" stroke-width="2.5" stroke-dasharray="5 3.5"/>
</g>
<rect x="60.0" y="10.5" width="479.0" height="329.2" fill="none" stroke="#000" stroke-width="2"/>
<line x1="60.0" y1="2.0" x2="60.0" y2="10.5" stroke="#000" stroke-width="1.8"/>
<line x1="60.0" y1="339.7" x2="60.0" y2="348.2" stroke="#000" stroke-width="1.8"/>
<line x1="139.8" y1="2.0" x2="139.8" y2="10.5" stroke="#000" stroke-width="1.8"/>
<line x1="139.8" y1="339.7" x2="139.8" y2="348.2" stroke="#000" stroke-width="1.8"/>
<line x1="219.7" y1="2.0" x2="219.7" y2="10.5" stroke="#000" stroke-width="1.8"/>
<line x1="219.7" y1="339.7" x2="219.7" y2="348.2" stroke="#000" stroke-width="1.8"/>
<line x1="299.5" y1="2.0" x2="299.5" y2="10.5" stroke="#000" stroke-width="1.8"/>
<line x1="299.5" y1="339.7" x2="299.5" y2="348.2" stroke="#000" stroke-width="1.8"/>
<line x1="379.3" y1="2.0" x2="379.3" y2="10.5" stroke="#000" stroke-width="1.8"/>
<line x1="379.3" y1="339.7" x2="379.3" y2="348.2" stroke="#000" stroke-width="1.8"/>
<line x1="459.2" y1="2.0" x2="459.2" y2="10.5" stroke="#000" stroke-width="1.8"/>
<line x1="459.2" y1="339.7" x2="459.2" y2="348.2" stroke="#000" stroke-width="1.8"/>
<line x1="539.0" y1="2.0" x2="539.0" y2="10.5" stroke="#000" stroke-width="1.8"/>
<line x1="539.0" y1="339.7" x2="539.0" y2="348.2" stroke="#000" stroke-width="1.8"/>
<line x1="53.3" y1="12.3" x2="60.0" y2="12.3" stroke="#000" stroke-width="1.6"/>
<line x1="539.0" y1="12.3" x2="548.0" y2="12.3" stroke="#000" stroke-width="1.6"/>
<line x1="50.5" y1="81.4" x2="60.0" y2="81.4" stroke="#000" stroke-width="1.6"/>
<line x1="539.0" y1="81.4" x2="548.0" y2="81.4" stroke="#000" stroke-width="1.6"/>
<line x1="50.5" y1="150.2" x2="60.0" y2="150.2" stroke="#000" stroke-width="1.6"/>
<line x1="539.0" y1="150.2" x2="548.0" y2="150.2" stroke="#000" stroke-width="1.6"/>
<line x1="50.5" y1="219.1" x2="60.0" y2="219.1" stroke="#000" stroke-width="1.6"/>
<line x1="539.0" y1="219.1" x2="548.0" y2="219.1" stroke="#000" stroke-width="1.6"/>
<line x1="50.5" y1="288.0" x2="60.0" y2="288.0" stroke="#000" stroke-width="1.6"/>
<line x1="539.0" y1="288.0" x2="548.0" y2="288.0" stroke="#000" stroke-width="1.6"/>
<text x="60.0" y="369.2" text-anchor="middle" class="tl">536</text>
<text x="139.8" y="369.2" text-anchor="middle" class="tl">532</text>
<text x="219.7" y="369.2" text-anchor="middle" class="tl">528</text>
<text x="299.5" y="369.2" text-anchor="middle" class="tl">524</text>
<text x="379.3" y="369.2" text-anchor="middle" class="tl">520</text>
<text x="459.2" y="369.2" text-anchor="middle" class="tl">516</text>
<text x="539.0" y="369.2" text-anchor="middle" class="tl">512</text>
<text x="299.5" y="407.9" text-anchor="middle" class="ax">Binding Energy (eV)</text>
<text transform="translate(24,181.2) rotate(-90)" text-anchor="middle" class="ax">Counts (arb. units)</text>
<rect x="60.0" y="443.7" width="479.0" height="329.59999999999997" fill="none" stroke="#000" stroke-width="2"/>
<line x1="60.0" y1="435.2" x2="60.0" y2="443.7" stroke="#000" stroke-width="1.8"/>
<line x1="60.0" y1="773.3" x2="60.0" y2="781.8" stroke="#000" stroke-width="1.8"/>
<line x1="139.8" y1="435.2" x2="139.8" y2="443.7" stroke="#000" stroke-width="1.8"/>
<line x1="139.8" y1="773.3" x2="139.8" y2="781.8" stroke="#000" stroke-width="1.8"/>
<line x1="219.7" y1="435.2" x2="219.7" y2="443.7" stroke="#000" stroke-width="1.8"/>
<line x1="219.7" y1="773.3" x2="219.7" y2="781.8" stroke="#000" stroke-width="1.8"/>
<line x1="299.5" y1="435.2" x2="299.5" y2="443.7" stroke="#000" stroke-width="1.8"/>
<line x1="299.5" y1="773.3" x2="299.5" y2="781.8" stroke="#000" stroke-width="1.8"/>
<line x1="379.3" y1="435.2" x2="379.3" y2="443.7" stroke="#000" stroke-width="1.8"/>
<line x1="379.3" y1="773.3" x2="379.3" y2="781.8" stroke="#000" stroke-width="1.8"/>
<line x1="459.2" y1="435.2" x2="459.2" y2="443.7" stroke="#000" stroke-width="1.8"/>
<line x1="459.2" y1="773.3" x2="459.2" y2="781.8" stroke="#000" stroke-width="1.8"/>
<line x1="539.0" y1="435.2" x2="539.0" y2="443.7" stroke="#000" stroke-width="1.8"/>
<line x1="539.0" y1="773.3" x2="539.0" y2="781.8" stroke="#000" stroke-width="1.8"/>
<line x1="50.5" y1="505.9" x2="60.0" y2="505.9" stroke="#000" stroke-width="1.6"/>
<line x1="539.0" y1="505.9" x2="548.0" y2="505.9" stroke="#000" stroke-width="1.6"/>
<line x1="50.5" y1="617.8" x2="60.0" y2="617.8" stroke="#000" stroke-width="1.6"/>
<line x1="539.0" y1="617.8" x2="548.0" y2="617.8" stroke="#000" stroke-width="1.6"/>
<line x1="50.5" y1="729.6" x2="60.0" y2="729.6" stroke="#000" stroke-width="1.6"/>
<line x1="539.0" y1="729.6" x2="548.0" y2="729.6" stroke="#000" stroke-width="1.6"/>
<text x="60.0" y="802.8" text-anchor="middle" class="tl">536</text>
<text x="139.8" y="802.8" text-anchor="middle" class="tl">532</text>
<text x="219.7" y="802.8" text-anchor="middle" class="tl">528</text>
<text x="299.5" y="802.8" text-anchor="middle" class="tl">524</text>
<text x="379.3" y="802.8" text-anchor="middle" class="tl">520</text>
<text x="459.2" y="802.8" text-anchor="middle" class="tl">516</text>
<text x="539.0" y="802.8" text-anchor="middle" class="tl">512</text>
<text x="299.5" y="840.5" text-anchor="middle" class="ax">Binding Energy (eV)</text>
<text transform="translate(24,614.5) rotate(-90)" text-anchor="middle" class="ax">Counts (arb. units)</text>
<rect x="60.0" y="877.4" width="479.0" height="329.5000000000001" fill="none" stroke="#000" stroke-width="2"/>
<line x1="60.0" y1="868.9" x2="60.0" y2="877.4" stroke="#000" stroke-width="1.8"/>
<line x1="60.0" y1="1206.9" x2="60.0" y2="1215.4" stroke="#000" stroke-width="1.8"/>
<line x1="139.8" y1="868.9" x2="139.8" y2="877.4" stroke="#000" stroke-width="1.8"/>
<line x1="139.8" y1="1206.9" x2="139.8" y2="1215.4" stroke="#000" stroke-width="1.8"/>
<line x1="219.7" y1="868.9" x2="219.7" y2="877.4" stroke="#000" stroke-width="1.8"/>
<line x1="219.7" y1="1206.9" x2="219.7" y2="1215.4" stroke="#000" stroke-width="1.8"/>
<line x1="299.5" y1="868.9" x2="299.5" y2="877.4" stroke="#000" stroke-width="1.8"/>
<line x1="299.5" y1="1206.9" x2="299.5" y2="1215.4" stroke="#000" stroke-width="1.8"/>
<line x1="379.3" y1="868.9" x2="379.3" y2="877.4" stroke="#000" stroke-width="1.8"/>
<line x1="379.3" y1="1206.9" x2="379.3" y2="1215.4" stroke="#000" stroke-width="1.8"/>
<line x1="459.2" y1="868.9" x2="459.2" y2="877.4" stroke="#000" stroke-width="1.8"/>
<line x1="459.2" y1="1206.9" x2="459.2" y2="1215.4" stroke="#000" stroke-width="1.8"/>
<line x1="539.0" y1="868.9" x2="539.0" y2="877.4" stroke="#000" stroke-width="1.8"/>
<line x1="539.0" y1="1206.9" x2="539.0" y2="1215.4" stroke="#000" stroke-width="1.8"/>
<line x1="53.3" y1="900.8" x2="60.0" y2="900.8" stroke="#000" stroke-width="1.6"/>
<line x1="539.0" y1="900.8" x2="548.0" y2="900.8" stroke="#000" stroke-width="1.6"/>
<line x1="50.5" y1="939.9" x2="60.0" y2="939.9" stroke="#000" stroke-width="1.6"/>
<line x1="539.0" y1="939.9" x2="548.0" y2="939.9" stroke="#000" stroke-width="1.6"/>
<line x1="50.5" y1="979.1" x2="60.0" y2="979.1" stroke="#000" stroke-width="1.6"/>
<line x1="539.0" y1="979.1" x2="548.0" y2="979.1" stroke="#000" stroke-width="1.6"/>
<line x1="50.5" y1="1018.4" x2="60.0" y2="1018.4" stroke="#000" stroke-width="1.6"/>
<line x1="539.0" y1="1018.4" x2="548.0" y2="1018.4" stroke="#000" stroke-width="1.6"/>
<line x1="50.5" y1="1057.6" x2="60.0" y2="1057.6" stroke="#000" stroke-width="1.6"/>
<line x1="539.0" y1="1057.6" x2="548.0" y2="1057.6" stroke="#000" stroke-width="1.6"/>
<line x1="50.5" y1="1096.8" x2="60.0" y2="1096.8" stroke="#000" stroke-width="1.6"/>
<line x1="539.0" y1="1096.8" x2="548.0" y2="1096.8" stroke="#000" stroke-width="1.6"/>
<line x1="50.5" y1="1136.1" x2="60.0" y2="1136.1" stroke="#000" stroke-width="1.6"/>
<line x1="539.0" y1="1136.1" x2="548.0" y2="1136.1" stroke="#000" stroke-width="1.6"/>
<line x1="50.5" y1="1175.3" x2="60.0" y2="1175.3" stroke="#000" stroke-width="1.6"/>
<line x1="539.0" y1="1175.3" x2="548.0" y2="1175.3" stroke="#000" stroke-width="1.6"/>
<text x="60.0" y="1236.4" text-anchor="middle" class="tl">536</text>
<text x="139.8" y="1236.4" text-anchor="middle" class="tl">532</text>
<text x="219.7" y="1236.4" text-anchor="middle" class="tl">528</text>
<text x="299.5" y="1236.4" text-anchor="middle" class="tl">524</text>
<text x="379.3" y="1236.4" text-anchor="middle" class="tl">520</text>
<text x="459.2" y="1236.4" text-anchor="middle" class="tl">516</text>
<text x="539.0" y="1236.4" text-anchor="middle" class="tl">512</text>
<text x="299.5" y="1274.3" text-anchor="middle" class="ax">Binding Energy (eV)</text>
<text transform="translate(24,1047.8) rotate(-90)" text-anchor="middle" class="ax">Counts (arb. units)</text>
<text x="-0.5" y="41.5" class="pl">(a)</text>
<text x="-0.5" y="470.5" class="pl">(b)</text>
<text x="-0.5" y="901.5" class="pl">(c)</text>
<text x="354.5" y="50.1" class="an">V<tspan class="sub" dy="7.9">2</tspan><tspan dy="-7.9">O</tspan><tspan class="sub" dy="7.9">5</tspan><tspan dy="-7.9"> on SS</tspan></text>
<text x="354.5" y="85.2" class="an">(pre-heating)</text>
<text x="359.2" y="484.7" class="an">V<tspan class="sub" dy="7.9">2</tspan><tspan dy="-7.9">O</tspan><tspan class="sub" dy="7.9">5</tspan><tspan dy="-7.9"> on SS</tspan></text>
<text x="358.3" y="520" class="an">(post-heating)</text>
<text x="355.1" y="922.8" class="an">V<tspan class="sub" dy="7.9">2</tspan><tspan dy="-7.9">O</tspan><tspan class="sub" dy="7.9">5</tspan><tspan dy="-7.9"> IO on SS</tspan></text>
<text x="142.5" y="899" class="pk">O 1s</text>
<text x="260.6" y="1073" class="pk">V 2p<tspan class="sub2" dy="7">1/2</tspan></text>
<text x="407.6" y="997.7" class="pk">V 2p<tspan class="sub2" dy="7">3/2</tspan></text>
</svg>
</body></html>
